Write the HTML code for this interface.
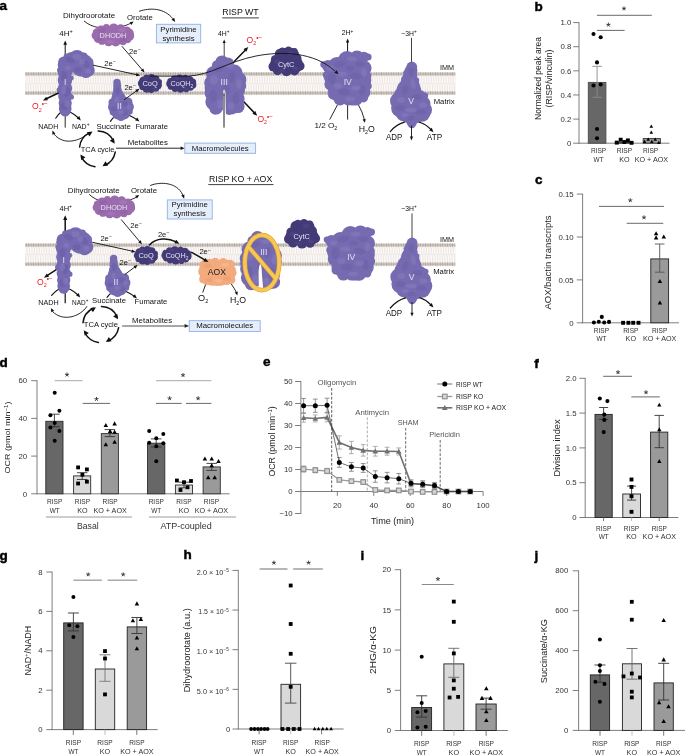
<!DOCTYPE html>
<html><head><meta charset="utf-8"><title>Figure</title>
<style>
html,body{margin:0;padding:0;background:#fff;}
svg{display:block;will-change:transform;font-family:"Liberation Sans",sans-serif;}
</style></head><body>
<svg width="685" height="755" viewBox="0 0 685 755">
<rect width="685" height="755" fill="#fff"/>
<text x="-0.60" y="9.80" font-size="13.5" text-anchor="start" fill="#000" font-weight="bold" stroke="#000" stroke-width="0.45">a</text>
<rect x="25" y="73.95" width="430.4" height="19.10" fill="#eee7e3"/>
<line x1="25.2" y1="79.58" x2="455.4" y2="79.58" stroke="#fcfaf9" stroke-width="7.15" stroke-dasharray="1.3 1.15"/>
<line x1="25.2" y1="87.42" x2="455.4" y2="87.42" stroke="#fcfaf9" stroke-width="7.15" stroke-dasharray="1.3 1.15" stroke-dashoffset="1.2"/>
<pattern id="hd73_0" patternUnits="userSpaceOnUse" x="25" y="72.05" width="2.45" height="3.8"><rect width="2.45" height="3.8" fill="#fff"/><rect y="0.5" width="2.45" height="2.8" fill="#e6dfda"/><ellipse cx="1.225" cy="1.9" rx="0.95" ry="1.9" fill="#b3a8a1"/></pattern>
<rect x="25" y="72.05" width="430.4" height="3.8" fill="url(#hd73_0)"/>
<pattern id="hd73_1" patternUnits="userSpaceOnUse" x="25" y="91.15" width="2.45" height="3.8"><rect width="2.45" height="3.8" fill="#fff"/><rect y="0.5" width="2.45" height="2.8" fill="#e6dfda"/><ellipse cx="1.225" cy="1.9" rx="0.95" ry="1.9" fill="#b3a8a1"/></pattern>
<rect x="25" y="91.15" width="430.4" height="3.8" fill="url(#hd73_1)"/>
<text x="240.50" y="15.30" font-size="8.8" text-anchor="middle" fill="#111" font-weight="normal" textLength="36.3" lengthAdjust="spacingAndGlyphs" >RISP WT</text>
<line x1="222.20" y1="17.90" x2="258.90" y2="17.90" stroke="#111" stroke-width="0.8" />
<text x="63.10" y="18.40" font-size="7.6" text-anchor="start" fill="#111" font-weight="normal" textLength="52" lengthAdjust="spacingAndGlyphs" >Dihydroorotate</text>
<text x="127.00" y="19.90" font-size="7.6" text-anchor="start" fill="#111" font-weight="normal" textLength="25.8" lengthAdjust="spacingAndGlyphs" >Orotate</text>
<text x="59.30" y="35.80" font-size="7.6" text-anchor="start" fill="#111" font-weight="normal" textLength="13.5" lengthAdjust="spacingAndGlyphs" >4H<tspan dy="-2.6" font-size="5.2">+</tspan></text>
<text x="218.00" y="35.80" font-size="7.6" text-anchor="start" fill="#111" font-weight="normal" textLength="11.5" lengthAdjust="spacingAndGlyphs" >4H<tspan dy="-2.6" font-size="5.2">+</tspan></text>
<text x="341.70" y="35.30" font-size="7.6" text-anchor="start" fill="#111" font-weight="normal" textLength="11.6" lengthAdjust="spacingAndGlyphs" >2H<tspan dy="-2.6" font-size="5.2">+</tspan></text>
<text x="401.20" y="35.80" font-size="7.6" text-anchor="start" fill="#111" font-weight="normal" textLength="15.4" lengthAdjust="spacingAndGlyphs" >~3H<tspan dy="-2.6" font-size="5.2">+</tspan></text>
<text x="129.00" y="53.70" font-size="7.6" text-anchor="start" fill="#111" font-weight="normal" >2e<tspan dy="-2.6" font-size="5.2">−</tspan></text>
<text x="104.20" y="65.90" font-size="7.6" text-anchor="start" fill="#111" font-weight="normal" >2e<tspan dy="-2.6" font-size="5.2">−</tspan></text>
<text x="124.40" y="90.00" font-size="7.6" text-anchor="start" fill="#111" font-weight="normal" >2e<tspan dy="-2.6" font-size="5.2">−</tspan></text>
<text x="38.30" y="128.50" font-size="7.6" text-anchor="start" fill="#111" font-weight="normal" textLength="20" lengthAdjust="spacingAndGlyphs" >NADH</text>
<text x="72.00" y="128.50" font-size="7.6" text-anchor="start" fill="#111" font-weight="normal" textLength="17.4" lengthAdjust="spacingAndGlyphs" >NAD<tspan dy="-2.6" font-size="5.2">+</tspan></text>
<text x="96.60" y="128.50" font-size="7.6" text-anchor="start" fill="#111" font-weight="normal" textLength="34.2" lengthAdjust="spacingAndGlyphs" >Succinate</text>
<text x="135.40" y="128.50" font-size="7.6" text-anchor="start" fill="#111" font-weight="normal" textLength="32.5" lengthAdjust="spacingAndGlyphs" >Fumarate</text>
<text x="127.70" y="145.10" font-size="7.6" text-anchor="start" fill="#111" font-weight="normal" textLength="40.2" lengthAdjust="spacingAndGlyphs" >Metabolites</text>
<text x="314.40" y="127.70" font-size="8.0" text-anchor="start" fill="#111" font-weight="normal" textLength="22.9" lengthAdjust="spacingAndGlyphs" >1/2 O<tspan dy="2.0" font-size="5.2">2</tspan></text>
<text x="358.80" y="132.30" font-size="8.4" text-anchor="start" fill="#111" font-weight="normal" textLength="16.1" lengthAdjust="spacingAndGlyphs" >H<tspan dy="2.0" font-size="5.2">2</tspan><tspan dy="-2">O</tspan></text>
<text x="386.00" y="140.20" font-size="8.4" text-anchor="start" fill="#111" font-weight="normal" textLength="16.3" lengthAdjust="spacingAndGlyphs" >ADP</text>
<text x="426.80" y="140.20" font-size="8.4" text-anchor="start" fill="#111" font-weight="normal" textLength="15.3" lengthAdjust="spacingAndGlyphs" >ATP</text>
<text x="440.00" y="69.50" font-size="7.6" text-anchor="start" fill="#111" font-weight="normal" textLength="14" lengthAdjust="spacingAndGlyphs" >IMM</text>
<text x="433.70" y="103.50" font-size="7.6" text-anchor="start" fill="#111" font-weight="normal" textLength="21" lengthAdjust="spacingAndGlyphs" >Matrix</text>
<rect x="156.4" y="24.3" width="44.30" height="18.60" fill="#e7eefb" stroke="#8fb1e3" stroke-width="0.9"/>
<text x="178.50" y="31.50" font-size="7.6" text-anchor="middle" fill="#111" font-weight="normal" textLength="36.3" lengthAdjust="spacingAndGlyphs" >Pyrimidine</text>
<text x="178.50" y="40.60" font-size="7.6" text-anchor="middle" fill="#111" font-weight="normal" textLength="32.2" lengthAdjust="spacingAndGlyphs" >synthesis</text>
<rect x="184.8" y="143.1" width="70.80" height="10.20" fill="#e7eefb" stroke="#8fb1e3" stroke-width="0.9"/>
<text x="220.20" y="150.60" font-size="7.4" text-anchor="middle" fill="#111" font-weight="normal" textLength="57" lengthAdjust="spacingAndGlyphs" >Macromolecules</text>
<line x1="65.20" y1="58.00" x2="65.20" y2="43.48" stroke="#111" stroke-width="1.0" stroke-linecap="round"/>
<path d="M65.20,40.40 L67.05,44.80 L63.35,44.80Z" fill="#111"/>
<line x1="224.20" y1="58.00" x2="224.20" y2="41.92" stroke="#111" stroke-width="0.8" stroke-linecap="round"/>
<path d="M224.20,39.40 L225.71,43.00 L222.69,43.00Z" fill="#111"/>
<line x1="347.60" y1="56.00" x2="347.60" y2="41.40" stroke="#111" stroke-width="1.0" stroke-linecap="round"/>
<path d="M347.60,38.60 L349.28,42.60 L345.92,42.60Z" fill="#111"/>
<line x1="411.50" y1="63.00" x2="411.50" y2="37.80" stroke="#111" stroke-width="0.8" />
<path d="M84.3,21.2 C92,28 104,29 112,28 C122,27 128,25 131.5,22.8" fill="none" stroke="#111" stroke-width="0.9" stroke-linecap="round" />
<path d="M133.60,21.40 L131.40,24.89 L129.57,22.27Z" fill="#111"/>
<path d="M139.5,11.2 C150,7.6 164,7.8 172.6,18.4" fill="none" stroke="#111" stroke-width="0.9" stroke-linecap="round" />
<path d="M175.20,22.00 L171.49,19.75 L174.21,17.78Z" fill="#111"/>
<line x1="60.00" y1="92.20" x2="45.80" y2="99.01" stroke="#111" stroke-width="1.5" stroke-linecap="round"/>
<path d="M42.90,100.40 L46.21,96.67 L47.88,100.15Z" fill="#111"/>
<line x1="233.50" y1="62.30" x2="245.96" y2="49.42" stroke="#111" stroke-width="1.5" stroke-linecap="round"/>
<path d="M248.30,47.00 L246.41,51.85 L243.51,49.05Z" fill="#111"/>
<line x1="243.60" y1="101.60" x2="254.88" y2="113.37" stroke="#111" stroke-width="1.5" stroke-linecap="round"/>
<path d="M257.20,115.80 L252.42,113.73 L255.34,110.94Z" fill="#111"/>
<path d="M55.7,118.2 Q58.5,114 61,112" fill="none" stroke="#111" stroke-width="1.1" stroke-linecap="round" />
<path d="M70,112 Q75,114.5 78.5,118" fill="none" stroke="#111" stroke-width="1.1" stroke-linecap="round" />
<path d="M80.80,120.40 L76.68,118.46 L79.30,116.10Z" fill="#111"/>
<line x1="65.20" y1="115.00" x2="65.20" y2="127.60" stroke="#111" stroke-width="0.9" />
<path d="M110.4,121.4 Q112.5,118 115.5,116" fill="none" stroke="#111" stroke-width="1.1" stroke-linecap="round" />
<path d="M129.5,115.4 Q134,117.5 137,119.6" fill="none" stroke="#111" stroke-width="1.1" stroke-linecap="round" />
<path d="M139.40,121.60 L135.05,120.25 L137.32,117.55Z" fill="#111"/>
<line x1="337.40" y1="105.00" x2="329.70" y2="119.60" stroke="#111" stroke-width="0.9" />
<line x1="347.60" y1="103.00" x2="347.60" y2="119.60" stroke="#111" stroke-width="0.9" />
<path d="M358.3,104.5 Q362.6,112 364.2,119" fill="none" stroke="#111" stroke-width="0.9" stroke-linecap="round" />
<path d="M364.90,122.80 L362.55,119.41 L365.67,118.75Z" fill="#111"/>
<circle cx="65.00" cy="65.00" r="7.30" fill="#766bb1"/>
<circle cx="65.00" cy="72.00" r="7.30" fill="#766bb1"/>
<circle cx="65.00" cy="80.00" r="7.30" fill="#766bb1"/>
<circle cx="65.00" cy="88.00" r="7.20" fill="#766bb1"/>
<circle cx="65.20" cy="96.00" r="7.00" fill="#766bb1"/>
<circle cx="65.20" cy="103.00" r="6.60" fill="#766bb1"/>
<circle cx="65.20" cy="109.00" r="6.30" fill="#766bb1"/>
<circle cx="65.20" cy="111.40" r="5.20" fill="#766bb1"/>
<circle cx="82.00" cy="65.00" r="11.50" fill="#766bb1"/>
<circle cx="77.00" cy="58.00" r="8.00" fill="#766bb1"/>
<circle cx="88.00" cy="70.00" r="6.80" fill="#766bb1"/>
<circle cx="86.00" cy="72.50" r="5.60" fill="#766bb1"/>
<circle cx="72.00" cy="60.00" r="8.00" fill="#766bb1"/>
<circle cx="70.00" cy="66.00" r="7.00" fill="#766bb1"/>
<circle cx="59.60" cy="70.00" r="2.60" fill="#766bb1"/>
<circle cx="59.40" cy="90.00" r="2.80" fill="#766bb1"/>
<circle cx="71.40" cy="97.00" r="2.60" fill="#766bb1"/>
<circle cx="71.60" cy="78.00" r="2.20" fill="#766bb1"/>
<circle cx="90.00" cy="62.00" r="3.40" fill="#766bb1"/>
<circle cx="84.00" cy="55.60" r="3.20" fill="#766bb1"/>
<circle cx="66.60" cy="56.40" r="3.00" fill="#766bb1"/>
<circle cx="63.60" cy="62.00" r="5.40" fill="#766bb1"/>
<ellipse cx="70.00" cy="60.00" rx="5.00" ry="3.00" fill="#675ca3" transform="rotate(20 70.00 60.00)" opacity="0.45"/>
<ellipse cx="86.00" cy="64.00" rx="4.00" ry="3.00" fill="#675ca3" transform="rotate(40 86.00 64.00)" opacity="0.45"/>
<ellipse cx="64.00" cy="76.00" rx="3.00" ry="5.00" fill="#675ca3" opacity="0.45"/>
<ellipse cx="67.00" cy="92.00" rx="3.00" ry="5.00" fill="#675ca3" transform="rotate(10 67.00 92.00)" opacity="0.45"/>
<ellipse cx="64.00" cy="106.00" rx="3.40" ry="4.00" fill="#675ca3" opacity="0.45"/>
<ellipse cx="78.00" cy="70.00" rx="4.00" ry="3.00" fill="#675ca3" opacity="0.45"/>
<ellipse cx="77.00" cy="57.00" rx="4.40" ry="3.00" fill="#877dc0" transform="rotate(10 77.00 57.00)" opacity="0.5"/>
<ellipse cx="88.00" cy="71.00" rx="3.00" ry="2.60" fill="#877dc0" opacity="0.5"/>
<ellipse cx="68.00" cy="68.00" rx="3.00" ry="2.60" fill="#877dc0" opacity="0.5"/>
<ellipse cx="64.00" cy="90.00" rx="2.40" ry="4.00" fill="#877dc0" opacity="0.5"/>
<ellipse cx="67.00" cy="104.00" rx="2.60" ry="3.40" fill="#877dc0" opacity="0.5"/>
<ellipse cx="82.00" cy="62.00" rx="3.00" ry="3.00" fill="#877dc0" opacity="0.5"/>
<text x="65.10" y="85.40" font-size="8.6" text-anchor="middle" fill="#e3dff2" font-weight="normal" >I</text>
<circle cx="117.00" cy="82.40" r="3.70" fill="#766bb1"/>
<circle cx="117.20" cy="86.00" r="4.00" fill="#766bb1"/>
<circle cx="117.40" cy="90.00" r="4.40" fill="#766bb1"/>
<circle cx="117.80" cy="94.00" r="5.40" fill="#766bb1"/>
<circle cx="118.20" cy="96.40" r="6.20" fill="#766bb1"/>
<circle cx="118.60" cy="99.40" r="7.60" fill="#766bb1"/>
<circle cx="120.50" cy="106.00" r="10.50" fill="#766bb1"/>
<circle cx="114.00" cy="107.00" r="6.00" fill="#766bb1"/>
<circle cx="127.50" cy="107.00" r="6.30" fill="#766bb1"/>
<circle cx="118.00" cy="113.00" r="6.50" fill="#766bb1"/>
<circle cx="124.00" cy="113.50" r="6.00" fill="#766bb1"/>
<circle cx="121.00" cy="116.50" r="4.50" fill="#766bb1"/>
<circle cx="128.00" cy="102.00" r="4.50" fill="#766bb1"/>
<circle cx="112.50" cy="102.50" r="4.00" fill="#766bb1"/>
<circle cx="113.00" cy="112.00" r="3.40" fill="#766bb1"/>
<circle cx="129.50" cy="111.50" r="3.20" fill="#766bb1"/>
<ellipse cx="117.60" cy="91.00" rx="2.20" ry="4.00" fill="#675ca3" opacity="0.45"/>
<ellipse cx="125.00" cy="104.00" rx="3.00" ry="3.00" fill="#675ca3" opacity="0.45"/>
<ellipse cx="114.00" cy="109.00" rx="3.00" ry="2.40" fill="#675ca3" opacity="0.45"/>
<ellipse cx="125.00" cy="113.00" rx="3.00" ry="2.20" fill="#675ca3" opacity="0.45"/>
<ellipse cx="117.00" cy="100.00" rx="2.40" ry="3.00" fill="#877dc0" opacity="0.5"/>
<ellipse cx="121.00" cy="112.00" rx="3.40" ry="2.00" fill="#877dc0" opacity="0.5"/>
<ellipse cx="129.00" cy="107.00" rx="2.40" ry="2.40" fill="#877dc0" opacity="0.5"/>
<text x="119.40" y="108.80" font-size="8.6" text-anchor="middle" fill="#e3dff2" font-weight="normal" >II</text>
<ellipse cx="113.00" cy="35.00" rx="19.09" ry="9.29" fill="#9a6cae"/>
<circle cx="129.61" cy="36.05" r="4.60" fill="#9a6cae"/>
<circle cx="127.19" cy="38.80" r="4.55" fill="#9a6cae"/>
<circle cx="122.95" cy="41.91" r="3.33" fill="#9a6cae"/>
<circle cx="115.68" cy="41.50" r="5.01" fill="#9a6cae"/>
<circle cx="108.61" cy="42.36" r="3.99" fill="#9a6cae"/>
<circle cx="101.94" cy="41.20" r="3.67" fill="#9a6cae"/>
<circle cx="98.55" cy="37.98" r="5.12" fill="#9a6cae"/>
<circle cx="95.14" cy="35.48" r="3.51" fill="#9a6cae"/>
<circle cx="96.90" cy="32.40" r="4.20" fill="#9a6cae"/>
<circle cx="101.24" cy="30.29" r="4.89" fill="#9a6cae"/>
<circle cx="106.39" cy="27.26" r="3.28" fill="#9a6cae"/>
<circle cx="113.75" cy="28.14" r="4.73" fill="#9a6cae"/>
<circle cx="120.61" cy="28.57" r="4.41" fill="#9a6cae"/>
<circle cx="126.91" cy="29.79" r="3.39" fill="#9a6cae"/>
<circle cx="128.74" cy="33.27" r="5.07" fill="#9a6cae"/>
<ellipse cx="113.00" cy="35.00" rx="18.00" ry="8.60" fill="#9a6cae"/>
<ellipse cx="102.00" cy="30.40" rx="4.00" ry="2.20" fill="#8b5d9f" transform="rotate(-10 102.00 30.40)" opacity="0.45"/>
<ellipse cx="123.00" cy="40.00" rx="4.00" ry="2.20" fill="#8b5d9f" opacity="0.45"/>
<ellipse cx="100.00" cy="39.00" rx="3.00" ry="2.00" fill="#8b5d9f" opacity="0.45"/>
<ellipse cx="122.00" cy="30.00" rx="4.00" ry="2.00" fill="#a97dbb" opacity="0.5"/>
<ellipse cx="110.00" cy="41.80" rx="4.00" ry="1.80" fill="#a97dbb" opacity="0.5"/>
<text x="113.00" y="37.70" font-size="7.3" text-anchor="middle" fill="#e8dcef" font-weight="normal" >DHODH</text>
<ellipse cx="150.10" cy="83.60" rx="10.22" ry="7.62" fill="#433b78"/>
<circle cx="157.72" cy="85.19" r="4.22" fill="#433b78"/>
<circle cx="155.67" cy="88.23" r="3.55" fill="#433b78"/>
<circle cx="151.27" cy="90.10" r="3.04" fill="#433b78"/>
<circle cx="146.75" cy="88.31" r="4.39" fill="#433b78"/>
<circle cx="142.38" cy="87.03" r="3.10" fill="#433b78"/>
<circle cx="141.37" cy="83.51" r="3.47" fill="#433b78"/>
<circle cx="143.49" cy="80.65" r="4.27" fill="#433b78"/>
<circle cx="146.33" cy="77.41" r="2.84" fill="#433b78"/>
<circle cx="151.39" cy="78.01" r="3.94" fill="#433b78"/>
<circle cx="155.62" cy="79.35" r="3.90" fill="#433b78"/>
<circle cx="159.11" cy="81.79" r="2.85" fill="#433b78"/>
<ellipse cx="150.10" cy="83.60" rx="9.60" ry="7.40" fill="#433b78"/>
<ellipse cx="145.10" cy="78.20" rx="3.00" ry="1.60" fill="#514987" opacity="0.5"/>
<ellipse cx="155.10" cy="89.20" rx="3.00" ry="1.60" fill="#514987" opacity="0.5"/>
<text x="150.10" y="86.20" font-size="7.4" text-anchor="middle" fill="#e4e1f3" font-weight="normal" >CoQ</text>
<ellipse cx="181.40" cy="83.60" rx="13.27" ry="7.27" fill="#433b78"/>
<circle cx="192.44" cy="84.65" r="3.93" fill="#433b78"/>
<circle cx="190.33" cy="87.08" r="3.68" fill="#433b78"/>
<circle cx="186.27" cy="89.47" r="2.82" fill="#433b78"/>
<circle cx="180.53" cy="88.56" r="4.22" fill="#433b78"/>
<circle cx="175.01" cy="88.66" r="3.22" fill="#433b78"/>
<circle cx="170.98" cy="86.63" r="3.15" fill="#433b78"/>
<circle cx="170.45" cy="83.81" r="4.24" fill="#433b78"/>
<circle cx="170.24" cy="80.89" r="2.86" fill="#433b78"/>
<circle cx="174.43" cy="79.14" r="3.62" fill="#433b78"/>
<circle cx="179.59" cy="78.46" r="3.99" fill="#433b78"/>
<circle cx="185.33" cy="77.46" r="2.73" fill="#433b78"/>
<circle cx="189.44" cy="80.02" r="4.03" fill="#433b78"/>
<circle cx="192.58" cy="82.02" r="3.56" fill="#433b78"/>
<ellipse cx="181.40" cy="83.60" rx="12.40" ry="7.00" fill="#433b78"/>
<ellipse cx="176.40" cy="78.20" rx="3.00" ry="1.60" fill="#514987" opacity="0.5"/>
<ellipse cx="186.40" cy="89.20" rx="3.00" ry="1.60" fill="#514987" opacity="0.5"/>
<text x="181.80" y="86.20" font-size="7.2" text-anchor="middle" fill="#e4e1f3" font-weight="normal" >CoQH<tspan dy="1.6" font-size="4.8">2</tspan></text>
<circle cx="222.00" cy="62.00" r="6.60" fill="#766bb1"/>
<circle cx="228.00" cy="63.50" r="6.00" fill="#766bb1"/>
<circle cx="217.50" cy="65.50" r="5.60" fill="#766bb1"/>
<circle cx="224.00" cy="70.00" r="9.00" fill="#766bb1"/>
<circle cx="214.00" cy="74.00" r="8.00" fill="#766bb1"/>
<circle cx="234.00" cy="73.00" r="8.50" fill="#766bb1"/>
<circle cx="238.00" cy="80.00" r="8.40" fill="#766bb1"/>
<circle cx="212.00" cy="83.00" r="7.80" fill="#766bb1"/>
<circle cx="224.00" cy="82.00" r="12.00" fill="#766bb1"/>
<circle cx="236.00" cy="90.00" r="9.00" fill="#766bb1"/>
<circle cx="213.00" cy="93.00" r="8.40" fill="#766bb1"/>
<circle cx="214.00" cy="102.00" r="8.60" fill="#766bb1"/>
<circle cx="236.00" cy="99.00" r="8.60" fill="#766bb1"/>
<circle cx="234.00" cy="106.00" r="7.60" fill="#766bb1"/>
<circle cx="216.00" cy="108.00" r="6.60" fill="#766bb1"/>
<circle cx="221.00" cy="101.00" r="6.00" fill="#766bb1"/>
<circle cx="229.00" cy="103.00" r="7.00" fill="#766bb1"/>
<circle cx="229.00" cy="110.00" r="5.00" fill="#766bb1"/>
<circle cx="210.00" cy="88.00" r="5.40" fill="#766bb1"/>
<circle cx="241.00" cy="86.00" r="5.20" fill="#766bb1"/>
<circle cx="224.00" cy="95.00" r="7.50" fill="#766bb1"/>
<circle cx="225.00" cy="106.00" r="5.00" fill="#766bb1"/>
<circle cx="238.00" cy="106.50" r="6.60" fill="#766bb1"/>
<circle cx="232.00" cy="109.60" r="4.90" fill="#766bb1"/>
<circle cx="215.00" cy="109.40" r="5.00" fill="#766bb1"/>
<ellipse cx="219.00" cy="69.00" rx="5.00" ry="3.00" fill="#675ca3" transform="rotate(-20 219.00 69.00)" opacity="0.42"/>
<ellipse cx="232.00" cy="77.00" rx="3.00" ry="6.00" fill="#675ca3" transform="rotate(10 232.00 77.00)" opacity="0.42"/>
<ellipse cx="213.00" cy="96.00" rx="4.00" ry="6.00" fill="#675ca3" opacity="0.42"/>
<ellipse cx="236.00" cy="98.00" rx="3.40" ry="6.00" fill="#675ca3" opacity="0.42"/>
<ellipse cx="226.00" cy="90.00" rx="4.00" ry="5.00" fill="#675ca3" opacity="0.42"/>
<ellipse cx="214.00" cy="80.00" rx="4.00" ry="5.00" fill="#877dc0" opacity="0.5"/>
<ellipse cx="239.00" cy="84.00" rx="3.00" ry="5.00" fill="#877dc0" opacity="0.5"/>
<ellipse cx="220.00" cy="104.00" rx="3.00" ry="5.00" fill="#877dc0" opacity="0.5"/>
<ellipse cx="230.00" cy="66.00" rx="4.00" ry="2.40" fill="#877dc0" opacity="0.5"/>
<ellipse cx="231.00" cy="106.00" rx="3.00" ry="4.00" fill="#877dc0" opacity="0.5"/>
<text x="224.20" y="84.60" font-size="8.6" text-anchor="middle" fill="#e3dff2" font-weight="normal" >III</text>
<path d="M222.9,116.5 L223,93 Q223.1,90 224.1,89.4 Q225.3,90 225.4,93 L225.9,116.5Z" fill="#fff"/>
<path d="M223,96 L223,93 Q223.1,90 224.1,89.4 Q225.3,90 225.4,93 L225.4,96Z" fill="#c9c4bf"/>
<line x1="224.00" y1="93.60" x2="224.00" y2="127.60" stroke="#1c1c1c" stroke-width="1.0" />
<circle cx="278.50" cy="64.60" r="8.60" fill="#433b78"/>
<circle cx="294.50" cy="64.60" r="8.60" fill="#433b78"/>
<circle cx="286.50" cy="63.60" r="9.40" fill="#433b78"/>
<circle cx="285.50" cy="55.60" r="7.60" fill="#433b78"/>
<circle cx="292.50" cy="54.60" r="6.60" fill="#433b78"/>
<circle cx="280.50" cy="54.00" r="5.60" fill="#433b78"/>
<circle cx="273.50" cy="66.60" r="5.00" fill="#433b78"/>
<circle cx="300.00" cy="66.00" r="4.60" fill="#433b78"/>
<circle cx="277.50" cy="70.60" r="4.60" fill="#433b78"/>
<circle cx="294.50" cy="70.60" r="4.80" fill="#433b78"/>
<circle cx="286.50" cy="71.20" r="5.00" fill="#433b78"/>
<circle cx="296.50" cy="58.60" r="5.00" fill="#433b78"/>
<circle cx="275.50" cy="59.60" r="4.60" fill="#433b78"/>
<circle cx="288.50" cy="50.20" r="3.60" fill="#433b78"/>
<circle cx="282.50" cy="50.60" r="3.20" fill="#433b78"/>
<circle cx="294.50" cy="51.00" r="3.00" fill="#433b78"/>
<ellipse cx="277.50" cy="61.60" rx="3.00" ry="2.00" fill="#514987" opacity="0.6"/>
<ellipse cx="295.50" cy="68.60" rx="3.00" ry="2.00" fill="#514987" opacity="0.6"/>
<ellipse cx="290.50" cy="53.60" rx="3.00" ry="2.00" fill="#514987" opacity="0.6"/>
<ellipse cx="282.50" cy="70.60" rx="3.00" ry="1.60" fill="#514987" opacity="0.6"/>
<text x="286.10" y="66.80" font-size="7.4" text-anchor="middle" fill="#e4e1f3" font-weight="normal" >CytC</text>
<circle cx="347.00" cy="60.00" r="9.00" fill="#766bb1"/>
<circle cx="357.00" cy="58.00" r="7.60" fill="#766bb1"/>
<circle cx="364.00" cy="57.00" r="5.20" fill="#766bb1"/>
<circle cx="368.00" cy="57.00" r="3.60" fill="#766bb1"/>
<circle cx="337.00" cy="66.00" r="9.00" fill="#766bb1"/>
<circle cx="328.00" cy="66.00" r="6.00" fill="#766bb1"/>
<circle cx="323.50" cy="64.50" r="3.20" fill="#766bb1"/>
<circle cx="352.00" cy="70.00" r="12.00" fill="#766bb1"/>
<circle cx="364.00" cy="68.00" r="7.60" fill="#766bb1"/>
<circle cx="334.00" cy="76.00" r="10.40" fill="#766bb1"/>
<circle cx="350.00" cy="82.00" r="13.00" fill="#766bb1"/>
<circle cx="362.00" cy="80.00" r="9.40" fill="#766bb1"/>
<circle cx="331.00" cy="84.00" r="6.60" fill="#766bb1"/>
<circle cx="337.60" cy="91.40" r="9.60" fill="#766bb1"/>
<circle cx="352.00" cy="94.00" r="11.40" fill="#766bb1"/>
<circle cx="362.00" cy="92.00" r="8.40" fill="#766bb1"/>
<circle cx="366.00" cy="76.00" r="5.40" fill="#766bb1"/>
<circle cx="340.00" cy="99.00" r="6.50" fill="#766bb1"/>
<circle cx="356.00" cy="99.00" r="6.60" fill="#766bb1"/>
<circle cx="348.00" cy="99.80" r="5.70" fill="#766bb1"/>
<circle cx="327.00" cy="75.00" r="4.20" fill="#766bb1"/>
<circle cx="367.40" cy="86.00" r="4.40" fill="#766bb1"/>
<circle cx="332.50" cy="95.00" r="4.40" fill="#766bb1"/>
<circle cx="363.60" cy="98.00" r="4.40" fill="#766bb1"/>
<ellipse cx="340.00" cy="64.00" rx="6.00" ry="3.00" fill="#675ca3" transform="rotate(-10 340.00 64.00)" opacity="0.42"/>
<ellipse cx="360.00" cy="64.00" rx="5.00" ry="2.60" fill="#675ca3" opacity="0.42"/>
<ellipse cx="332.00" cy="78.00" rx="4.00" ry="6.00" fill="#675ca3" opacity="0.42"/>
<ellipse cx="356.00" cy="76.00" rx="6.00" ry="3.00" fill="#675ca3" transform="rotate(10 356.00 76.00)" opacity="0.42"/>
<ellipse cx="344.00" cy="92.00" rx="6.00" ry="3.40" fill="#675ca3" opacity="0.42"/>
<ellipse cx="362.00" cy="90.00" rx="3.40" ry="5.00" fill="#675ca3" opacity="0.42"/>
<ellipse cx="350.00" cy="68.00" rx="4.00" ry="2.40" fill="#675ca3" opacity="0.42"/>
<ellipse cx="352.00" cy="59.00" rx="5.00" ry="2.40" fill="#877dc0" opacity="0.5"/>
<ellipse cx="330.00" cy="68.00" rx="4.00" ry="2.60" fill="#877dc0" opacity="0.5"/>
<ellipse cx="364.00" cy="72.00" rx="3.00" ry="4.00" fill="#877dc0" opacity="0.5"/>
<ellipse cx="338.00" cy="86.00" rx="4.00" ry="3.00" fill="#877dc0" opacity="0.5"/>
<ellipse cx="356.00" cy="88.00" rx="5.00" ry="2.60" fill="#877dc0" opacity="0.5"/>
<ellipse cx="350.00" cy="99.00" rx="5.00" ry="2.40" fill="#877dc0" opacity="0.5"/>
<ellipse cx="342.00" cy="74.00" rx="5.00" ry="2.60" fill="#877dc0" opacity="0.5"/>
<text x="347.80" y="85.20" font-size="8.6" text-anchor="middle" fill="#e3dff2" font-weight="normal" >IV</text>
<circle cx="411.80" cy="67.00" r="5.40" fill="#766bb1"/>
<circle cx="411.00" cy="71.00" r="6.40" fill="#766bb1"/>
<circle cx="410.20" cy="76.00" r="7.20" fill="#766bb1"/>
<circle cx="409.40" cy="81.00" r="8.60" fill="#766bb1"/>
<circle cx="409.80" cy="86.00" r="10.00" fill="#766bb1"/>
<circle cx="408.80" cy="91.00" r="12.40" fill="#766bb1"/>
<circle cx="401.50" cy="95.00" r="7.60" fill="#766bb1"/>
<circle cx="410.00" cy="103.00" r="14.00" fill="#766bb1"/>
<circle cx="399.00" cy="101.00" r="9.00" fill="#766bb1"/>
<circle cx="400.50" cy="108.00" r="9.40" fill="#766bb1"/>
<circle cx="419.00" cy="98.00" r="8.00" fill="#766bb1"/>
<circle cx="421.50" cy="104.00" r="9.00" fill="#766bb1"/>
<circle cx="423.00" cy="110.00" r="9.00" fill="#766bb1"/>
<circle cx="404.00" cy="113.00" r="8.40" fill="#766bb1"/>
<circle cx="421.60" cy="113.00" r="8.80" fill="#766bb1"/>
<circle cx="412.50" cy="115.00" r="9.00" fill="#766bb1"/>
<circle cx="408.00" cy="116.50" r="6.40" fill="#766bb1"/>
<circle cx="417.00" cy="116.50" r="6.40" fill="#766bb1"/>
<circle cx="411.80" cy="121.50" r="5.40" fill="#766bb1"/>
<circle cx="411.80" cy="124.00" r="4.20" fill="#766bb1"/>
<circle cx="405.60" cy="72.60" r="2.40" fill="#766bb1"/>
<circle cx="416.60" cy="80.00" r="2.60" fill="#766bb1"/>
<circle cx="397.40" cy="92.60" r="2.60" fill="#766bb1"/>
<circle cx="425.40" cy="95.60" r="2.80" fill="#766bb1"/>
<ellipse cx="411.00" cy="72.00" rx="2.60" ry="4.00" fill="#675ca3" opacity="0.42"/>
<ellipse cx="405.00" cy="90.00" rx="3.00" ry="5.00" fill="#675ca3" transform="rotate(20 405.00 90.00)" opacity="0.42"/>
<ellipse cx="417.00" cy="97.00" rx="5.00" ry="3.00" fill="#675ca3" opacity="0.42"/>
<ellipse cx="400.00" cy="108.00" rx="5.00" ry="3.00" fill="#675ca3" opacity="0.42"/>
<ellipse cx="421.00" cy="112.00" rx="5.00" ry="2.60" fill="#675ca3" opacity="0.42"/>
<ellipse cx="411.00" cy="118.00" rx="4.00" ry="2.20" fill="#675ca3" opacity="0.42"/>
<ellipse cx="413.00" cy="84.00" rx="2.60" ry="5.00" fill="#877dc0" transform="rotate(-10 413.00 84.00)" opacity="0.5"/>
<ellipse cx="401.00" cy="100.00" rx="4.00" ry="3.00" fill="#877dc0" opacity="0.5"/>
<ellipse cx="423.00" cy="105.00" rx="4.00" ry="2.60" fill="#877dc0" opacity="0.5"/>
<ellipse cx="411.00" cy="110.00" rx="6.00" ry="2.40" fill="#877dc0" opacity="0.5"/>
<ellipse cx="405.00" cy="115.00" rx="4.00" ry="2.00" fill="#877dc0" opacity="0.5"/>
<text x="411.20" y="103.80" font-size="8.6" text-anchor="middle" fill="#e3dff2" font-weight="normal" >V</text>
<line x1="122.10" y1="46.50" x2="142.77" y2="70.38" stroke="#111" stroke-width="0.9" stroke-linecap="round"/>
<path d="M144.60,72.50 L140.71,70.57 L143.25,68.38Z" fill="#111"/>
<line x1="93.30" y1="65.20" x2="137.47" y2="74.90" stroke="#111" stroke-width="0.9" stroke-linecap="round"/>
<path d="M140.20,75.50 L135.93,76.28 L136.65,73.00Z" fill="#111"/>
<line x1="124.40" y1="99.60" x2="137.13" y2="90.44" stroke="#111" stroke-width="0.9" stroke-linecap="round"/>
<path d="M139.40,88.80 L137.14,92.50 L135.17,89.77Z" fill="#111"/>
<path d="M150.5,76.1 L188,76.1 C212,75 226,62 256,56 C282,51 314,52 334.4,70.6" fill="none" stroke="#111" stroke-width="0.9" stroke-linecap="round" />
<path d="M338.60,74.30 L334.30,72.80 L336.66,70.18Z" fill="#111"/>
<text x="32.00" y="109.40" font-size="8.6" text-anchor="start" fill="#ee1c25" font-weight="normal" >O<tspan dy="2.2" font-size="5.4">2</tspan><tspan dy="-5.4" font-size="6.4">•−</tspan></text>
<text x="246.60" y="42.90" font-size="8.6" text-anchor="start" fill="#ee1c25" font-weight="normal" >O<tspan dy="2.2" font-size="5.4">2</tspan><tspan dy="-5.4" font-size="6.4">•−</tspan></text>
<text x="257.40" y="122.10" font-size="8.6" text-anchor="start" fill="#ee1c25" font-weight="normal" >O<tspan dy="2.2" font-size="5.4">2</tspan><tspan dy="-5.4" font-size="6.4">•−</tspan></text>
<path d="M98.13,130.91 A18.0,18.0 0 0 1 113.68,141.01" fill="none" stroke="#111" stroke-width="1.5" stroke-linecap="round" />
<path d="M114.71,143.64 L109.74,140.72 L113.87,137.93Z" fill="#111"/>
<path d="M115.23,152.03 A18.0,18.0 0 0 1 105.11,165.21" fill="none" stroke="#111" stroke-width="1.5" stroke-linecap="round" />
<path d="M102.46,166.20 L105.46,161.28 L108.18,165.46Z" fill="#111"/>
<path d="M94.99,166.72 A18.0,18.0 0 0 1 81.46,157.07" fill="none" stroke="#111" stroke-width="1.5" stroke-linecap="round" />
<path d="M80.38,154.46 L85.41,157.29 L81.32,160.15Z" fill="#111"/>
<path d="M79.60,147.02 A18.0,18.0 0 0 1 89.89,132.59" fill="none" stroke="#111" stroke-width="1.5" stroke-linecap="round" />
<path d="M92.54,131.60 L89.54,136.52 L86.82,132.34Z" fill="#111"/>
<text x="97.60" y="152.20" font-size="7.6" text-anchor="middle" fill="#111" font-weight="normal" textLength="33.6" lengthAdjust="spacingAndGlyphs" >TCA cycle</text>
<path d="M88.5,133.2 C80,141 64,146 54.2,134.4" fill="none" stroke="#111" stroke-width="0.9" stroke-linecap="round" />
<path d="M52.40,130.40 L55.46,133.48 L52.34,134.74Z" fill="#111"/>
<line x1="116.00" y1="148.20" x2="181.00" y2="148.20" stroke="#111" stroke-width="0.9" />
<path d="M184.60,148.20 L180.60,149.88 L180.60,146.52Z" fill="#111"/>
<line x1="411.50" y1="126.00" x2="411.50" y2="137.74" stroke="#111" stroke-width="0.9" stroke-linecap="round"/>
<path d="M411.50,140.40 L409.90,136.60 L413.10,136.60Z" fill="#111"/>
<path d="M390.3,131.6 Q396,124.6 404.4,122.2" fill="none" stroke="#111" stroke-width="1.2" stroke-linecap="round" />
<path d="M419.4,122.2 Q426.5,124.4 430.6,129.2" fill="none" stroke="#111" stroke-width="1.2" stroke-linecap="round" />
<path d="M433.40,132.20 L429.08,130.17 L431.83,127.69Z" fill="#111"/>
<rect x="25" y="245.10" width="430.4" height="19.10" fill="#eee7e3"/>
<line x1="25.2" y1="250.72" x2="455.4" y2="250.72" stroke="#fcfaf9" stroke-width="7.15" stroke-dasharray="1.3 1.15"/>
<line x1="25.2" y1="258.58" x2="455.4" y2="258.58" stroke="#fcfaf9" stroke-width="7.15" stroke-dasharray="1.3 1.15" stroke-dashoffset="1.2"/>
<pattern id="hd245_0" patternUnits="userSpaceOnUse" x="25" y="243.20" width="2.45" height="3.8"><rect width="2.45" height="3.8" fill="#fff"/><rect y="0.5" width="2.45" height="2.8" fill="#e6dfda"/><ellipse cx="1.225" cy="1.9" rx="0.95" ry="1.9" fill="#b3a8a1"/></pattern>
<rect x="25" y="243.20" width="430.4" height="3.8" fill="url(#hd245_0)"/>
<pattern id="hd245_1" patternUnits="userSpaceOnUse" x="25" y="262.30" width="2.45" height="3.8"><rect width="2.45" height="3.8" fill="#fff"/><rect y="0.5" width="2.45" height="2.8" fill="#e6dfda"/><ellipse cx="1.225" cy="1.9" rx="0.95" ry="1.9" fill="#b3a8a1"/></pattern>
<rect x="25" y="262.30" width="430.4" height="3.8" fill="url(#hd245_1)"/>
<text x="240.60" y="181.50" font-size="8.8" text-anchor="middle" fill="#111" font-weight="normal" textLength="63.4" lengthAdjust="spacingAndGlyphs" >RISP KO + AOX</text>
<line x1="208.30" y1="184.60" x2="273.50" y2="184.60" stroke="#111" stroke-width="0.8" />
<text x="67.70" y="192.50" font-size="7.6" text-anchor="start" fill="#111" font-weight="normal" textLength="52" lengthAdjust="spacingAndGlyphs" >Dihydroorotate</text>
<text x="131.00" y="192.50" font-size="7.6" text-anchor="start" fill="#111" font-weight="normal" textLength="26" lengthAdjust="spacingAndGlyphs" >Orotate</text>
<text x="59.50" y="210.90" font-size="7.6" text-anchor="start" fill="#111" font-weight="normal" textLength="12.6" lengthAdjust="spacingAndGlyphs" >4H<tspan dy="-2.6" font-size="5.2">+</tspan></text>
<text x="401.20" y="210.90" font-size="7.6" text-anchor="start" fill="#111" font-weight="normal" textLength="15.4" lengthAdjust="spacingAndGlyphs" >~3H<tspan dy="-2.6" font-size="5.2">+</tspan></text>
<text x="130.30" y="227.50" font-size="7.6" text-anchor="start" fill="#111" font-weight="normal" >2e<tspan dy="-2.6" font-size="5.2">−</tspan></text>
<text x="100.40" y="241.00" font-size="7.6" text-anchor="start" fill="#111" font-weight="normal" >2e<tspan dy="-2.6" font-size="5.2">−</tspan></text>
<text x="157.90" y="236.90" font-size="7.6" text-anchor="start" fill="#111" font-weight="normal" >2e<tspan dy="-2.6" font-size="5.2">−</tspan></text>
<text x="119.60" y="264.50" font-size="7.6" text-anchor="start" fill="#111" font-weight="normal" >2e<tspan dy="-2.6" font-size="5.2">−</tspan></text>
<text x="199.40" y="254.30" font-size="7.6" text-anchor="start" fill="#111" font-weight="normal" >2e<tspan dy="-2.6" font-size="5.2">−</tspan></text>
<text x="38.30" y="304.60" font-size="7.6" text-anchor="start" fill="#111" font-weight="normal" textLength="20.5" lengthAdjust="spacingAndGlyphs" >NADH</text>
<text x="72.00" y="304.60" font-size="7.6" text-anchor="start" fill="#111" font-weight="normal" textLength="16.2" lengthAdjust="spacingAndGlyphs" >NAD<tspan dy="-2.6" font-size="5.2">+</tspan></text>
<text x="92.00" y="302.90" font-size="7.6" text-anchor="start" fill="#111" font-weight="normal" textLength="34" lengthAdjust="spacingAndGlyphs" >Succinate</text>
<text x="134.60" y="303.90" font-size="7.6" text-anchor="start" fill="#111" font-weight="normal" textLength="32.7" lengthAdjust="spacingAndGlyphs" >Fumarate</text>
<text x="132.10" y="322.50" font-size="7.6" text-anchor="start" fill="#111" font-weight="normal" textLength="40" lengthAdjust="spacingAndGlyphs" >Metabolites</text>
<text x="198.10" y="300.80" font-size="8.6" text-anchor="start" fill="#111" font-weight="normal" textLength="10.2" lengthAdjust="spacingAndGlyphs" >O<tspan dy="2.0" font-size="5.2">2</tspan></text>
<text x="230.00" y="303.40" font-size="8.6" text-anchor="start" fill="#111" font-weight="normal" textLength="16.1" lengthAdjust="spacingAndGlyphs" >H<tspan dy="2.0" font-size="5.2">2</tspan><tspan dy="-2">O</tspan></text>
<text x="385.70" y="316.30" font-size="8.4" text-anchor="start" fill="#111" font-weight="normal" textLength="16.5" lengthAdjust="spacingAndGlyphs" >ADP</text>
<text x="426.80" y="316.30" font-size="8.4" text-anchor="start" fill="#111" font-weight="normal" textLength="15.2" lengthAdjust="spacingAndGlyphs" >ATP</text>
<text x="440.00" y="242.30" font-size="7.6" text-anchor="start" fill="#111" font-weight="normal" textLength="14" lengthAdjust="spacingAndGlyphs" >IMM</text>
<text x="433.20" y="274.20" font-size="7.6" text-anchor="start" fill="#111" font-weight="normal" textLength="21" lengthAdjust="spacingAndGlyphs" >Matrix</text>
<rect x="167.3" y="199.9" width="44.90" height="19.10" fill="#e7eefb" stroke="#8fb1e3" stroke-width="0.9"/>
<text x="189.70" y="207.10" font-size="7.6" text-anchor="middle" fill="#111" font-weight="normal" textLength="36.3" lengthAdjust="spacingAndGlyphs" >Pyrimidine</text>
<text x="189.70" y="216.20" font-size="7.6" text-anchor="middle" fill="#111" font-weight="normal" textLength="32.2" lengthAdjust="spacingAndGlyphs" >synthesis</text>
<rect x="189.2" y="320.7" width="71.00" height="10.80" fill="#e7eefb" stroke="#8fb1e3" stroke-width="0.9"/>
<text x="224.70" y="328.30" font-size="7.4" text-anchor="middle" fill="#111" font-weight="normal" textLength="57" lengthAdjust="spacingAndGlyphs" >Macromolecules</text>
<line x1="65.20" y1="235.00" x2="65.20" y2="218.56" stroke="#111" stroke-width="1.5" stroke-linecap="round"/>
<path d="M65.20,215.20 L67.22,220.00 L63.18,220.00Z" fill="#111"/>
<line x1="412.00" y1="238.00" x2="412.00" y2="213.40" stroke="#111" stroke-width="0.8" />
<path d="M89.4,194.6 C96,201 106,203 114,202.5 C124,202 132,200 136.6,197" fill="none" stroke="#111" stroke-width="0.9" stroke-linecap="round" />
<path d="M139.20,195.00 L137.00,198.49 L135.17,195.87Z" fill="#111"/>
<path d="M150.5,185.4 C160,181.5 177,182 182.6,194.6" fill="none" stroke="#111" stroke-width="0.9" stroke-linecap="round" />
<path d="M184.20,198.80 L181.25,195.62 L184.41,194.47Z" fill="#111"/>
<line x1="58.60" y1="268.20" x2="46.71" y2="275.96" stroke="#111" stroke-width="1.5" stroke-linecap="round"/>
<path d="M43.90,277.80 L46.82,273.49 L49.02,276.86Z" fill="#111"/>
<path d="M51.6,295.4 Q55.5,291 59,289" fill="none" stroke="#111" stroke-width="1.1" stroke-linecap="round" />
<path d="M69.5,289 Q74.5,291.5 78,295" fill="none" stroke="#111" stroke-width="1.1" stroke-linecap="round" />
<path d="M80.20,297.40 L76.08,295.46 L78.70,293.10Z" fill="#111"/>
<line x1="65.20" y1="292.00" x2="65.20" y2="303.20" stroke="#111" stroke-width="1.2" />
<path d="M107,297.4 Q109.5,294 112.5,292" fill="none" stroke="#111" stroke-width="1.1" stroke-linecap="round" />
<path d="M126,291.5 Q130.5,293.5 134.5,296.4" fill="none" stroke="#111" stroke-width="1.1" stroke-linecap="round" />
<path d="M137.00,298.40 L132.65,297.05 L134.92,294.35Z" fill="#111"/>
<line x1="205.80" y1="284.00" x2="202.70" y2="292.60" stroke="#111" stroke-width="0.9" />
<path d="M231.3,284 Q234.5,288.5 236.2,292" fill="none" stroke="#111" stroke-width="0.9" stroke-linecap="round" />
<path d="M237.40,295.60 L234.71,292.48 L237.74,291.49Z" fill="#111"/>
<circle cx="63.50" cy="242.20" r="7.30" fill="#766bb1"/>
<circle cx="63.50" cy="249.20" r="7.30" fill="#766bb1"/>
<circle cx="63.50" cy="257.20" r="7.30" fill="#766bb1"/>
<circle cx="63.50" cy="265.20" r="7.20" fill="#766bb1"/>
<circle cx="63.70" cy="273.20" r="7.00" fill="#766bb1"/>
<circle cx="63.70" cy="280.20" r="6.60" fill="#766bb1"/>
<circle cx="63.70" cy="286.20" r="6.30" fill="#766bb1"/>
<circle cx="63.70" cy="288.60" r="5.20" fill="#766bb1"/>
<circle cx="80.50" cy="242.20" r="11.50" fill="#766bb1"/>
<circle cx="75.50" cy="235.20" r="8.00" fill="#766bb1"/>
<circle cx="86.50" cy="247.20" r="6.80" fill="#766bb1"/>
<circle cx="84.50" cy="249.70" r="5.60" fill="#766bb1"/>
<circle cx="70.50" cy="237.20" r="8.00" fill="#766bb1"/>
<circle cx="68.50" cy="243.20" r="7.00" fill="#766bb1"/>
<circle cx="58.10" cy="247.20" r="2.60" fill="#766bb1"/>
<circle cx="57.90" cy="267.20" r="2.80" fill="#766bb1"/>
<circle cx="69.90" cy="274.20" r="2.60" fill="#766bb1"/>
<circle cx="70.10" cy="255.20" r="2.20" fill="#766bb1"/>
<circle cx="88.50" cy="239.20" r="3.40" fill="#766bb1"/>
<circle cx="82.50" cy="232.80" r="3.20" fill="#766bb1"/>
<circle cx="65.10" cy="233.60" r="3.00" fill="#766bb1"/>
<circle cx="62.10" cy="239.20" r="5.40" fill="#766bb1"/>
<ellipse cx="68.50" cy="237.20" rx="5.00" ry="3.00" fill="#675ca3" transform="rotate(20 68.50 237.20)" opacity="0.45"/>
<ellipse cx="84.50" cy="241.20" rx="4.00" ry="3.00" fill="#675ca3" transform="rotate(40 84.50 241.20)" opacity="0.45"/>
<ellipse cx="62.50" cy="253.20" rx="3.00" ry="5.00" fill="#675ca3" opacity="0.45"/>
<ellipse cx="65.50" cy="269.20" rx="3.00" ry="5.00" fill="#675ca3" transform="rotate(10 65.50 269.20)" opacity="0.45"/>
<ellipse cx="62.50" cy="283.20" rx="3.40" ry="4.00" fill="#675ca3" opacity="0.45"/>
<ellipse cx="76.50" cy="247.20" rx="4.00" ry="3.00" fill="#675ca3" opacity="0.45"/>
<ellipse cx="75.50" cy="234.20" rx="4.40" ry="3.00" fill="#877dc0" transform="rotate(10 75.50 234.20)" opacity="0.5"/>
<ellipse cx="86.50" cy="248.20" rx="3.00" ry="2.60" fill="#877dc0" opacity="0.5"/>
<ellipse cx="66.50" cy="245.20" rx="3.00" ry="2.60" fill="#877dc0" opacity="0.5"/>
<ellipse cx="62.50" cy="267.20" rx="2.40" ry="4.00" fill="#877dc0" opacity="0.5"/>
<ellipse cx="65.50" cy="281.20" rx="2.60" ry="3.40" fill="#877dc0" opacity="0.5"/>
<ellipse cx="80.50" cy="239.20" rx="3.00" ry="3.00" fill="#877dc0" opacity="0.5"/>
<text x="63.60" y="262.60" font-size="8.6" text-anchor="middle" fill="#e3dff2" font-weight="normal" >I</text>
<circle cx="113.60" cy="258.40" r="3.70" fill="#766bb1"/>
<circle cx="113.80" cy="262.00" r="4.00" fill="#766bb1"/>
<circle cx="114.00" cy="266.00" r="4.40" fill="#766bb1"/>
<circle cx="114.40" cy="270.00" r="5.40" fill="#766bb1"/>
<circle cx="114.80" cy="272.40" r="6.20" fill="#766bb1"/>
<circle cx="115.20" cy="275.40" r="7.60" fill="#766bb1"/>
<circle cx="117.10" cy="282.00" r="10.50" fill="#766bb1"/>
<circle cx="110.60" cy="283.00" r="6.00" fill="#766bb1"/>
<circle cx="124.10" cy="283.00" r="6.30" fill="#766bb1"/>
<circle cx="114.60" cy="289.00" r="6.50" fill="#766bb1"/>
<circle cx="120.60" cy="289.50" r="6.00" fill="#766bb1"/>
<circle cx="117.60" cy="292.50" r="4.50" fill="#766bb1"/>
<circle cx="124.60" cy="278.00" r="4.50" fill="#766bb1"/>
<circle cx="109.10" cy="278.50" r="4.00" fill="#766bb1"/>
<circle cx="109.60" cy="288.00" r="3.40" fill="#766bb1"/>
<circle cx="126.10" cy="287.50" r="3.20" fill="#766bb1"/>
<ellipse cx="114.20" cy="267.00" rx="2.20" ry="4.00" fill="#675ca3" opacity="0.45"/>
<ellipse cx="121.60" cy="280.00" rx="3.00" ry="3.00" fill="#675ca3" opacity="0.45"/>
<ellipse cx="110.60" cy="285.00" rx="3.00" ry="2.40" fill="#675ca3" opacity="0.45"/>
<ellipse cx="121.60" cy="289.00" rx="3.00" ry="2.20" fill="#675ca3" opacity="0.45"/>
<ellipse cx="113.60" cy="276.00" rx="2.40" ry="3.00" fill="#877dc0" opacity="0.5"/>
<ellipse cx="117.60" cy="288.00" rx="3.40" ry="2.00" fill="#877dc0" opacity="0.5"/>
<ellipse cx="125.60" cy="283.00" rx="2.40" ry="2.40" fill="#877dc0" opacity="0.5"/>
<text x="116.00" y="284.80" font-size="8.6" text-anchor="middle" fill="#e3dff2" font-weight="normal" >II</text>
<ellipse cx="114.00" cy="207.00" rx="19.09" ry="9.29" fill="#9a6cae"/>
<circle cx="130.61" cy="208.05" r="4.60" fill="#9a6cae"/>
<circle cx="128.19" cy="210.80" r="4.55" fill="#9a6cae"/>
<circle cx="123.95" cy="213.91" r="3.33" fill="#9a6cae"/>
<circle cx="116.68" cy="213.50" r="5.01" fill="#9a6cae"/>
<circle cx="109.61" cy="214.36" r="3.99" fill="#9a6cae"/>
<circle cx="102.94" cy="213.20" r="3.67" fill="#9a6cae"/>
<circle cx="99.55" cy="209.98" r="5.12" fill="#9a6cae"/>
<circle cx="96.14" cy="207.48" r="3.51" fill="#9a6cae"/>
<circle cx="97.90" cy="204.40" r="4.20" fill="#9a6cae"/>
<circle cx="102.24" cy="202.29" r="4.89" fill="#9a6cae"/>
<circle cx="107.39" cy="199.26" r="3.28" fill="#9a6cae"/>
<circle cx="114.75" cy="200.14" r="4.73" fill="#9a6cae"/>
<circle cx="121.61" cy="200.57" r="4.41" fill="#9a6cae"/>
<circle cx="127.91" cy="201.79" r="3.39" fill="#9a6cae"/>
<circle cx="129.74" cy="205.27" r="5.07" fill="#9a6cae"/>
<ellipse cx="114.00" cy="207.00" rx="18.00" ry="8.60" fill="#9a6cae"/>
<ellipse cx="103.00" cy="202.40" rx="4.00" ry="2.20" fill="#8b5d9f" transform="rotate(-10 103.00 202.40)" opacity="0.45"/>
<ellipse cx="124.00" cy="212.00" rx="4.00" ry="2.20" fill="#8b5d9f" opacity="0.45"/>
<ellipse cx="101.00" cy="211.00" rx="3.00" ry="2.00" fill="#8b5d9f" opacity="0.45"/>
<ellipse cx="123.00" cy="202.00" rx="4.00" ry="2.00" fill="#a97dbb" opacity="0.5"/>
<ellipse cx="111.00" cy="213.80" rx="4.00" ry="1.80" fill="#a97dbb" opacity="0.5"/>
<text x="114.00" y="209.70" font-size="7.3" text-anchor="middle" fill="#e8dcef" font-weight="normal" >DHODH</text>
<ellipse cx="146.10" cy="255.50" rx="10.22" ry="7.62" fill="#433b78"/>
<circle cx="153.72" cy="257.09" r="4.22" fill="#433b78"/>
<circle cx="151.67" cy="260.13" r="3.55" fill="#433b78"/>
<circle cx="147.27" cy="262.00" r="3.04" fill="#433b78"/>
<circle cx="142.75" cy="260.21" r="4.39" fill="#433b78"/>
<circle cx="138.38" cy="258.93" r="3.10" fill="#433b78"/>
<circle cx="137.37" cy="255.41" r="3.47" fill="#433b78"/>
<circle cx="139.49" cy="252.55" r="4.27" fill="#433b78"/>
<circle cx="142.33" cy="249.31" r="2.84" fill="#433b78"/>
<circle cx="147.39" cy="249.91" r="3.94" fill="#433b78"/>
<circle cx="151.62" cy="251.25" r="3.90" fill="#433b78"/>
<circle cx="155.11" cy="253.69" r="2.85" fill="#433b78"/>
<ellipse cx="146.10" cy="255.50" rx="9.60" ry="7.40" fill="#433b78"/>
<ellipse cx="141.10" cy="250.10" rx="3.00" ry="1.60" fill="#514987" opacity="0.5"/>
<ellipse cx="151.10" cy="261.10" rx="3.00" ry="1.60" fill="#514987" opacity="0.5"/>
<text x="146.10" y="258.10" font-size="7.4" text-anchor="middle" fill="#e4e1f3" font-weight="normal" >CoQ</text>
<ellipse cx="176.60" cy="255.30" rx="13.27" ry="7.27" fill="#433b78"/>
<circle cx="187.64" cy="256.35" r="3.93" fill="#433b78"/>
<circle cx="185.53" cy="258.78" r="3.68" fill="#433b78"/>
<circle cx="181.47" cy="261.17" r="2.82" fill="#433b78"/>
<circle cx="175.73" cy="260.26" r="4.22" fill="#433b78"/>
<circle cx="170.21" cy="260.36" r="3.22" fill="#433b78"/>
<circle cx="166.18" cy="258.33" r="3.15" fill="#433b78"/>
<circle cx="165.65" cy="255.51" r="4.24" fill="#433b78"/>
<circle cx="165.44" cy="252.59" r="2.86" fill="#433b78"/>
<circle cx="169.63" cy="250.84" r="3.62" fill="#433b78"/>
<circle cx="174.79" cy="250.16" r="3.99" fill="#433b78"/>
<circle cx="180.53" cy="249.16" r="2.73" fill="#433b78"/>
<circle cx="184.64" cy="251.72" r="4.03" fill="#433b78"/>
<circle cx="187.78" cy="253.72" r="3.56" fill="#433b78"/>
<ellipse cx="176.60" cy="255.30" rx="12.40" ry="7.00" fill="#433b78"/>
<ellipse cx="171.60" cy="249.90" rx="3.00" ry="1.60" fill="#514987" opacity="0.5"/>
<ellipse cx="181.60" cy="260.90" rx="3.00" ry="1.60" fill="#514987" opacity="0.5"/>
<text x="177.00" y="257.90" font-size="7.2" text-anchor="middle" fill="#e4e1f3" font-weight="normal" >CoQH<tspan dy="1.6" font-size="4.8">2</tspan></text>
<circle cx="208.20" cy="268.70" r="9.00" fill="#f3aa7e"/>
<circle cx="224.20" cy="268.30" r="9.00" fill="#f3aa7e"/>
<circle cx="217.20" cy="271.70" r="10.50" fill="#f3aa7e"/>
<circle cx="208.20" cy="276.70" r="8.40" fill="#f3aa7e"/>
<circle cx="226.20" cy="276.70" r="8.40" fill="#f3aa7e"/>
<circle cx="217.20" cy="278.10" r="8.00" fill="#f3aa7e"/>
<circle cx="203.20" cy="271.70" r="5.00" fill="#f3aa7e"/>
<circle cx="231.60" cy="272.70" r="5.00" fill="#f3aa7e"/>
<circle cx="204.20" cy="264.70" r="4.60" fill="#f3aa7e"/>
<circle cx="230.20" cy="264.10" r="4.40" fill="#f3aa7e"/>
<circle cx="215.20" cy="262.30" r="4.60" fill="#f3aa7e"/>
<circle cx="223.20" cy="262.10" r="4.20" fill="#f3aa7e"/>
<circle cx="209.20" cy="262.70" r="4.00" fill="#f3aa7e"/>
<circle cx="203.20" cy="279.30" r="4.00" fill="#f3aa7e"/>
<circle cx="231.20" cy="279.70" r="4.20" fill="#f3aa7e"/>
<circle cx="221.20" cy="281.70" r="4.00" fill="#f3aa7e"/>
<circle cx="212.20" cy="281.70" r="4.00" fill="#f3aa7e"/>
<circle cx="232.20" cy="269.70" r="3.60" fill="#f3aa7e"/>
<ellipse cx="207.20" cy="265.70" rx="4.00" ry="2.40" fill="#ea9b6c" opacity="0.55"/>
<ellipse cx="227.20" cy="278.70" rx="4.00" ry="2.20" fill="#ea9b6c" opacity="0.55"/>
<ellipse cx="209.20" cy="279.70" rx="3.00" ry="2.00" fill="#ea9b6c" opacity="0.55"/>
<ellipse cx="225.20" cy="264.70" rx="4.00" ry="2.00" fill="#f7b990" opacity="0.7"/>
<ellipse cx="218.20" cy="280.70" rx="4.00" ry="1.80" fill="#f7b990" opacity="0.7"/>
<text x="216.80" y="274.90" font-size="8.6" text-anchor="middle" fill="#1a1a1a" font-weight="normal" >AOX</text>
<circle cx="257.50" cy="237.60" r="6.60" fill="#766bb1"/>
<circle cx="263.50" cy="239.10" r="6.00" fill="#766bb1"/>
<circle cx="253.00" cy="241.10" r="5.60" fill="#766bb1"/>
<circle cx="259.50" cy="245.60" r="9.00" fill="#766bb1"/>
<circle cx="249.50" cy="249.60" r="8.00" fill="#766bb1"/>
<circle cx="269.50" cy="248.60" r="8.50" fill="#766bb1"/>
<circle cx="273.50" cy="255.60" r="8.40" fill="#766bb1"/>
<circle cx="247.50" cy="258.60" r="7.80" fill="#766bb1"/>
<circle cx="259.50" cy="257.60" r="12.00" fill="#766bb1"/>
<circle cx="271.50" cy="265.60" r="9.00" fill="#766bb1"/>
<circle cx="248.50" cy="268.60" r="8.40" fill="#766bb1"/>
<circle cx="249.50" cy="277.60" r="8.60" fill="#766bb1"/>
<circle cx="271.50" cy="274.60" r="8.60" fill="#766bb1"/>
<circle cx="269.50" cy="281.60" r="7.60" fill="#766bb1"/>
<circle cx="251.50" cy="283.60" r="6.60" fill="#766bb1"/>
<circle cx="256.50" cy="276.60" r="6.00" fill="#766bb1"/>
<circle cx="264.50" cy="278.60" r="7.00" fill="#766bb1"/>
<circle cx="264.50" cy="285.60" r="5.00" fill="#766bb1"/>
<circle cx="245.50" cy="263.60" r="5.40" fill="#766bb1"/>
<circle cx="276.50" cy="261.60" r="5.20" fill="#766bb1"/>
<circle cx="259.50" cy="270.60" r="7.50" fill="#766bb1"/>
<circle cx="260.50" cy="281.60" r="5.00" fill="#766bb1"/>
<circle cx="273.50" cy="282.10" r="6.60" fill="#766bb1"/>
<circle cx="267.50" cy="285.20" r="4.90" fill="#766bb1"/>
<circle cx="250.50" cy="285.00" r="5.00" fill="#766bb1"/>
<ellipse cx="254.50" cy="244.60" rx="5.00" ry="3.00" fill="#675ca3" transform="rotate(-20 254.50 244.60)" opacity="0.42"/>
<ellipse cx="267.50" cy="252.60" rx="3.00" ry="6.00" fill="#675ca3" transform="rotate(10 267.50 252.60)" opacity="0.42"/>
<ellipse cx="248.50" cy="271.60" rx="4.00" ry="6.00" fill="#675ca3" opacity="0.42"/>
<ellipse cx="271.50" cy="273.60" rx="3.40" ry="6.00" fill="#675ca3" opacity="0.42"/>
<ellipse cx="261.50" cy="265.60" rx="4.00" ry="5.00" fill="#675ca3" opacity="0.42"/>
<ellipse cx="249.50" cy="255.60" rx="4.00" ry="5.00" fill="#877dc0" opacity="0.5"/>
<ellipse cx="274.50" cy="259.60" rx="3.00" ry="5.00" fill="#877dc0" opacity="0.5"/>
<ellipse cx="255.50" cy="279.60" rx="3.00" ry="5.00" fill="#877dc0" opacity="0.5"/>
<ellipse cx="265.50" cy="241.60" rx="4.00" ry="2.40" fill="#877dc0" opacity="0.5"/>
<ellipse cx="266.50" cy="281.60" rx="3.00" ry="4.00" fill="#877dc0" opacity="0.5"/>
<path d="M258.9,291 L258.6,273 Q258.8,266.6 260.2,263.6 Q262,266.6 261.8,273 L263.4,291Z" fill="#fff"/>
<text x="263.80" y="254.60" font-size="8.6" text-anchor="middle" fill="#e3dff2" font-weight="normal" >III</text>
<ellipse cx="262" cy="262.6" rx="17.2" ry="27.5" fill="none" stroke="#e2a436" stroke-width="4.7"/>
<line x1="248.2" y1="246.4" x2="275.8" y2="278.8" stroke="#e2a436" stroke-width="4.5"/>
<ellipse cx="262" cy="262.6" rx="17.2" ry="27.5" fill="none" stroke="#f8c854" stroke-width="3.3"/>
<line x1="248.2" y1="246.4" x2="275.8" y2="278.8" stroke="#f8c854" stroke-width="3.1"/>
<circle cx="294.00" cy="237.00" r="8.60" fill="#433b78"/>
<circle cx="310.00" cy="237.00" r="8.60" fill="#433b78"/>
<circle cx="302.00" cy="236.00" r="9.40" fill="#433b78"/>
<circle cx="301.00" cy="228.00" r="7.60" fill="#433b78"/>
<circle cx="308.00" cy="227.00" r="6.60" fill="#433b78"/>
<circle cx="296.00" cy="226.40" r="5.60" fill="#433b78"/>
<circle cx="289.00" cy="239.00" r="5.00" fill="#433b78"/>
<circle cx="315.50" cy="238.40" r="4.60" fill="#433b78"/>
<circle cx="293.00" cy="243.00" r="4.60" fill="#433b78"/>
<circle cx="310.00" cy="243.00" r="4.80" fill="#433b78"/>
<circle cx="302.00" cy="243.60" r="5.00" fill="#433b78"/>
<circle cx="312.00" cy="231.00" r="5.00" fill="#433b78"/>
<circle cx="291.00" cy="232.00" r="4.60" fill="#433b78"/>
<circle cx="304.00" cy="222.60" r="3.60" fill="#433b78"/>
<circle cx="298.00" cy="223.00" r="3.20" fill="#433b78"/>
<circle cx="310.00" cy="223.40" r="3.00" fill="#433b78"/>
<ellipse cx="293.00" cy="234.00" rx="3.00" ry="2.00" fill="#514987" opacity="0.6"/>
<ellipse cx="311.00" cy="241.00" rx="3.00" ry="2.00" fill="#514987" opacity="0.6"/>
<ellipse cx="306.00" cy="226.00" rx="3.00" ry="2.00" fill="#514987" opacity="0.6"/>
<ellipse cx="298.00" cy="243.00" rx="3.00" ry="1.60" fill="#514987" opacity="0.6"/>
<text x="301.60" y="239.20" font-size="7.4" text-anchor="middle" fill="#e4e1f3" font-weight="normal" >CytC</text>
<circle cx="350.40" cy="235.10" r="9.00" fill="#766bb1"/>
<circle cx="360.40" cy="233.10" r="7.60" fill="#766bb1"/>
<circle cx="367.40" cy="232.10" r="5.20" fill="#766bb1"/>
<circle cx="371.40" cy="232.10" r="3.60" fill="#766bb1"/>
<circle cx="340.40" cy="241.10" r="9.00" fill="#766bb1"/>
<circle cx="331.40" cy="241.10" r="6.00" fill="#766bb1"/>
<circle cx="326.90" cy="239.60" r="3.20" fill="#766bb1"/>
<circle cx="355.40" cy="245.10" r="12.00" fill="#766bb1"/>
<circle cx="367.40" cy="243.10" r="7.60" fill="#766bb1"/>
<circle cx="337.40" cy="251.10" r="10.40" fill="#766bb1"/>
<circle cx="353.40" cy="257.10" r="13.00" fill="#766bb1"/>
<circle cx="365.40" cy="255.10" r="9.40" fill="#766bb1"/>
<circle cx="334.40" cy="259.10" r="6.60" fill="#766bb1"/>
<circle cx="341.00" cy="266.50" r="9.60" fill="#766bb1"/>
<circle cx="355.40" cy="269.10" r="11.40" fill="#766bb1"/>
<circle cx="365.40" cy="267.10" r="8.40" fill="#766bb1"/>
<circle cx="369.40" cy="251.10" r="5.40" fill="#766bb1"/>
<circle cx="343.40" cy="274.10" r="6.50" fill="#766bb1"/>
<circle cx="359.40" cy="274.10" r="6.60" fill="#766bb1"/>
<circle cx="351.40" cy="274.90" r="5.70" fill="#766bb1"/>
<circle cx="330.40" cy="250.10" r="4.20" fill="#766bb1"/>
<circle cx="370.80" cy="261.10" r="4.40" fill="#766bb1"/>
<circle cx="335.90" cy="270.10" r="4.40" fill="#766bb1"/>
<circle cx="367.00" cy="273.10" r="4.40" fill="#766bb1"/>
<ellipse cx="343.40" cy="239.10" rx="6.00" ry="3.00" fill="#675ca3" transform="rotate(-10 343.40 239.10)" opacity="0.42"/>
<ellipse cx="363.40" cy="239.10" rx="5.00" ry="2.60" fill="#675ca3" opacity="0.42"/>
<ellipse cx="335.40" cy="253.10" rx="4.00" ry="6.00" fill="#675ca3" opacity="0.42"/>
<ellipse cx="359.40" cy="251.10" rx="6.00" ry="3.00" fill="#675ca3" transform="rotate(10 359.40 251.10)" opacity="0.42"/>
<ellipse cx="347.40" cy="267.10" rx="6.00" ry="3.40" fill="#675ca3" opacity="0.42"/>
<ellipse cx="365.40" cy="265.10" rx="3.40" ry="5.00" fill="#675ca3" opacity="0.42"/>
<ellipse cx="353.40" cy="243.10" rx="4.00" ry="2.40" fill="#675ca3" opacity="0.42"/>
<ellipse cx="355.40" cy="234.10" rx="5.00" ry="2.40" fill="#877dc0" opacity="0.5"/>
<ellipse cx="333.40" cy="243.10" rx="4.00" ry="2.60" fill="#877dc0" opacity="0.5"/>
<ellipse cx="367.40" cy="247.10" rx="3.00" ry="4.00" fill="#877dc0" opacity="0.5"/>
<ellipse cx="341.40" cy="261.10" rx="4.00" ry="3.00" fill="#877dc0" opacity="0.5"/>
<ellipse cx="359.40" cy="263.10" rx="5.00" ry="2.60" fill="#877dc0" opacity="0.5"/>
<ellipse cx="353.40" cy="274.10" rx="5.00" ry="2.40" fill="#877dc0" opacity="0.5"/>
<ellipse cx="345.40" cy="249.10" rx="5.00" ry="2.60" fill="#877dc0" opacity="0.5"/>
<text x="351.20" y="260.30" font-size="8.6" text-anchor="middle" fill="#e3dff2" font-weight="normal" >IV</text>
<circle cx="412.10" cy="243.00" r="5.40" fill="#766bb1"/>
<circle cx="411.30" cy="247.00" r="6.40" fill="#766bb1"/>
<circle cx="410.50" cy="252.00" r="7.20" fill="#766bb1"/>
<circle cx="409.70" cy="257.00" r="8.60" fill="#766bb1"/>
<circle cx="410.10" cy="262.00" r="10.00" fill="#766bb1"/>
<circle cx="409.10" cy="267.00" r="12.40" fill="#766bb1"/>
<circle cx="401.80" cy="271.00" r="7.60" fill="#766bb1"/>
<circle cx="410.30" cy="279.00" r="14.00" fill="#766bb1"/>
<circle cx="399.30" cy="277.00" r="9.00" fill="#766bb1"/>
<circle cx="400.80" cy="284.00" r="9.40" fill="#766bb1"/>
<circle cx="419.30" cy="274.00" r="8.00" fill="#766bb1"/>
<circle cx="421.80" cy="280.00" r="9.00" fill="#766bb1"/>
<circle cx="423.30" cy="286.00" r="9.00" fill="#766bb1"/>
<circle cx="404.30" cy="289.00" r="8.40" fill="#766bb1"/>
<circle cx="421.90" cy="289.00" r="8.80" fill="#766bb1"/>
<circle cx="412.80" cy="291.00" r="9.00" fill="#766bb1"/>
<circle cx="408.30" cy="292.50" r="6.40" fill="#766bb1"/>
<circle cx="417.30" cy="292.50" r="6.40" fill="#766bb1"/>
<circle cx="412.10" cy="297.50" r="5.40" fill="#766bb1"/>
<circle cx="412.10" cy="300.00" r="4.20" fill="#766bb1"/>
<circle cx="405.90" cy="248.60" r="2.40" fill="#766bb1"/>
<circle cx="416.90" cy="256.00" r="2.60" fill="#766bb1"/>
<circle cx="397.70" cy="268.60" r="2.60" fill="#766bb1"/>
<circle cx="425.70" cy="271.60" r="2.80" fill="#766bb1"/>
<ellipse cx="411.30" cy="248.00" rx="2.60" ry="4.00" fill="#675ca3" opacity="0.42"/>
<ellipse cx="405.30" cy="266.00" rx="3.00" ry="5.00" fill="#675ca3" transform="rotate(20 405.30 266.00)" opacity="0.42"/>
<ellipse cx="417.30" cy="273.00" rx="5.00" ry="3.00" fill="#675ca3" opacity="0.42"/>
<ellipse cx="400.30" cy="284.00" rx="5.00" ry="3.00" fill="#675ca3" opacity="0.42"/>
<ellipse cx="421.30" cy="288.00" rx="5.00" ry="2.60" fill="#675ca3" opacity="0.42"/>
<ellipse cx="411.30" cy="294.00" rx="4.00" ry="2.20" fill="#675ca3" opacity="0.42"/>
<ellipse cx="413.30" cy="260.00" rx="2.60" ry="5.00" fill="#877dc0" transform="rotate(-10 413.30 260.00)" opacity="0.5"/>
<ellipse cx="401.30" cy="276.00" rx="4.00" ry="3.00" fill="#877dc0" opacity="0.5"/>
<ellipse cx="423.30" cy="281.00" rx="4.00" ry="2.60" fill="#877dc0" opacity="0.5"/>
<ellipse cx="411.30" cy="286.00" rx="6.00" ry="2.40" fill="#877dc0" opacity="0.5"/>
<ellipse cx="405.30" cy="291.00" rx="4.00" ry="2.00" fill="#877dc0" opacity="0.5"/>
<text x="411.50" y="279.80" font-size="8.6" text-anchor="middle" fill="#e3dff2" font-weight="normal" >V</text>
<line x1="121.40" y1="219.80" x2="140.20" y2="242.16" stroke="#111" stroke-width="0.9" stroke-linecap="round"/>
<path d="M142.00,244.30 L138.14,242.32 L140.71,240.16Z" fill="#111"/>
<line x1="92.50" y1="242.30" x2="132.87" y2="251.29" stroke="#111" stroke-width="0.9" stroke-linecap="round"/>
<path d="M135.60,251.90 L131.33,252.67 L132.06,249.39Z" fill="#111"/>
<line x1="125.20" y1="274.20" x2="135.45" y2="266.57" stroke="#111" stroke-width="0.9" stroke-linecap="round"/>
<path d="M137.70,264.90 L135.49,268.64 L133.49,265.94Z" fill="#111"/>
<path d="M149.5,245 C156,237.6 168,237.6 175.6,241.6" fill="none" stroke="#111" stroke-width="1.5" stroke-linecap="round" />
<path d="M179.40,243.80 L174.24,243.15 L176.25,239.65Z" fill="#111"/>
<line x1="191.70" y1="252.30" x2="205.60" y2="260.41" stroke="#111" stroke-width="1.5" stroke-linecap="round"/>
<path d="M208.50,262.10 L203.34,261.42 L205.37,257.94Z" fill="#111"/>
<text x="37.00" y="284.50" font-size="8.6" text-anchor="start" fill="#ee1c25" font-weight="normal" >O<tspan dy="2.2" font-size="5.4">2</tspan><tspan dy="-5.4" font-size="6.4">•−</tspan></text>
<path d="M101.53,306.61 A18.0,18.0 0 0 1 117.08,316.71" fill="none" stroke="#111" stroke-width="1.5" stroke-linecap="round" />
<path d="M118.11,319.34 L113.14,316.42 L117.27,313.63Z" fill="#111"/>
<path d="M118.63,327.73 A18.0,18.0 0 0 1 108.51,340.91" fill="none" stroke="#111" stroke-width="1.5" stroke-linecap="round" />
<path d="M105.86,341.90 L108.86,336.98 L111.58,341.16Z" fill="#111"/>
<path d="M98.39,342.42 A18.0,18.0 0 0 1 84.86,332.77" fill="none" stroke="#111" stroke-width="1.5" stroke-linecap="round" />
<path d="M83.78,330.16 L88.81,332.99 L84.72,335.85Z" fill="#111"/>
<path d="M83.00,322.72 A18.0,18.0 0 0 1 93.29,308.29" fill="none" stroke="#111" stroke-width="1.5" stroke-linecap="round" />
<path d="M95.94,307.30 L92.94,312.22 L90.22,308.04Z" fill="#111"/>
<text x="100.90" y="327.10" font-size="7.6" text-anchor="middle" fill="#111" font-weight="normal" textLength="34.2" lengthAdjust="spacingAndGlyphs" >TCA cycle</text>
<path d="M86.8,306.6 C80,317 63,322 52.8,311.8" fill="none" stroke="#111" stroke-width="0.9" stroke-linecap="round" />
<path d="M50.90,308.00 L54.26,310.74 L51.29,312.32Z" fill="#111"/>
<line x1="122.10" y1="325.90" x2="185.00" y2="325.90" stroke="#8a8a8a" stroke-width="1.5" />
<path d="M189.00,325.90 L184.60,327.75 L184.60,324.05Z" fill="#222"/>
<line x1="412.00" y1="302.40" x2="412.00" y2="313.84" stroke="#111" stroke-width="0.9" stroke-linecap="round"/>
<path d="M412.00,316.50 L410.40,312.70 L413.60,312.70Z" fill="#111"/>
<path d="M390.3,308 Q396.5,300.4 405.4,297.8" fill="none" stroke="#111" stroke-width="1.2" stroke-linecap="round" />
<path d="M419.8,297.8 Q426.5,300 430.6,304.6" fill="none" stroke="#111" stroke-width="1.2" stroke-linecap="round" />
<path d="M433.40,307.60 L429.08,305.57 L431.83,303.09Z" fill="#111"/>
<text x="534.50" y="10.60" font-size="13.5" text-anchor="start" fill="#000" font-weight="bold" stroke="#000" stroke-width="0.45">b</text>
<line x1="579.00" y1="22.20" x2="579.00" y2="143.60" stroke="#6f6f6f" stroke-width="0.9" />
<line x1="578.60" y1="143.20" x2="669.50" y2="143.20" stroke="#6f6f6f" stroke-width="0.9" />
<line x1="573.20" y1="22.60" x2="579.00" y2="22.60" stroke="#6f6f6f" stroke-width="0.9" />
<text x="571.30" y="25.30" font-size="7.8" text-anchor="end" fill="#333" font-weight="normal" >1.0</text>
<line x1="573.20" y1="46.72" x2="579.00" y2="46.72" stroke="#6f6f6f" stroke-width="0.9" />
<text x="571.30" y="49.42" font-size="7.8" text-anchor="end" fill="#333" font-weight="normal" >0.8</text>
<line x1="573.20" y1="70.84" x2="579.00" y2="70.84" stroke="#6f6f6f" stroke-width="0.9" />
<text x="571.30" y="73.54" font-size="7.8" text-anchor="end" fill="#333" font-weight="normal" >0.6</text>
<line x1="573.20" y1="94.96" x2="579.00" y2="94.96" stroke="#6f6f6f" stroke-width="0.9" />
<text x="571.30" y="97.66" font-size="7.8" text-anchor="end" fill="#333" font-weight="normal" >0.4</text>
<line x1="573.20" y1="119.08" x2="579.00" y2="119.08" stroke="#6f6f6f" stroke-width="0.9" />
<text x="571.30" y="121.78" font-size="7.8" text-anchor="end" fill="#333" font-weight="normal" >0.2</text>
<line x1="573.20" y1="143.20" x2="579.00" y2="143.20" stroke="#6f6f6f" stroke-width="0.9" />
<text x="571.30" y="145.90" font-size="7.8" text-anchor="end" fill="#333" font-weight="normal" >0</text>
<rect x="588.30" y="82.40" width="17.60" height="60.80" fill="#676767" stroke="#4a4a4a" stroke-width="0.9"/>
<rect x="615.20" y="142.20" width="17.80" height="1.00" fill="#d9d9d9" stroke="#333" stroke-width="0.9"/>
<rect x="643.20" y="138.60" width="17.20" height="4.60" fill="#9a9a9a" stroke="#333" stroke-width="0.9"/>
<line x1="597.10" y1="66.30" x2="597.10" y2="97.30" stroke="#8a8a8a" stroke-width="0.9" />
<line x1="592.30" y1="66.30" x2="601.90" y2="66.30" stroke="#8a8a8a" stroke-width="0.9" />
<line x1="592.30" y1="97.30" x2="601.90" y2="97.30" stroke="#8a8a8a" stroke-width="0.9" />
<circle cx="593.50" cy="34.00" r="2.05" fill="#000"/>
<circle cx="600.70" cy="37.30" r="2.05" fill="#000"/>
<circle cx="597.00" cy="62.40" r="2.05" fill="#000"/>
<circle cx="593.50" cy="85.50" r="2.05" fill="#000"/>
<circle cx="600.70" cy="84.50" r="2.05" fill="#000"/>
<circle cx="597.00" cy="129.00" r="2.05" fill="#000"/>
<circle cx="597.00" cy="138.20" r="2.05" fill="#000"/>
<rect x="614.85" y="140.65" width="3.9" height="3.9" fill="#000"/>
<rect x="618.75" y="137.75" width="3.9" height="3.9" fill="#000"/>
<rect x="622.35" y="140.05" width="3.9" height="3.9" fill="#000"/>
<rect x="625.95" y="138.45" width="3.9" height="3.9" fill="#000"/>
<rect x="629.55" y="140.85" width="3.9" height="3.9" fill="#000"/>
<path d="M651.30,124.42 L653.10,127.66 L649.50,127.66Z" fill="#000"/>
<path d="M651.30,130.62 L653.10,133.86 L649.50,133.86Z" fill="#000"/>
<path d="M644.60,139.72 L646.40,142.96 L642.80,142.96Z" fill="#000"/>
<path d="M648.20,137.62 L650.00,140.86 L646.40,140.86Z" fill="#000"/>
<path d="M651.80,139.72 L653.60,142.96 L650.00,142.96Z" fill="#000"/>
<path d="M655.20,137.62 L657.00,140.86 L653.40,140.86Z" fill="#000"/>
<path d="M658.80,140.72 L660.60,143.96 L657.00,143.96Z" fill="#000"/>
<line x1="596.90" y1="15.30" x2="651.80" y2="15.30" stroke="#444" stroke-width="0.8" />
<path d="M624.00,8.60L624.00,6.45M624.00,8.60L626.04,7.94M624.00,8.60L625.26,10.34M624.00,8.60L622.74,10.34M624.00,8.60L621.96,7.94" stroke="#222" stroke-width="0.85" fill="none"/>
<line x1="596.90" y1="30.40" x2="624.60" y2="30.40" stroke="#444" stroke-width="0.8" />
<path d="M608.40,24.80L608.40,22.65M608.40,24.80L610.44,24.14M608.40,24.80L609.66,26.54M608.40,24.80L607.14,26.54M608.40,24.80L606.36,24.14" stroke="#222" stroke-width="0.85" fill="none"/>
<text transform="translate(541.40,78.50) rotate(-90)" font-size="8.2" text-anchor="middle" fill="#222" textLength="83" lengthAdjust="spacingAndGlyphs">Normalized peak area</text>
<text transform="translate(552.00,78.50) rotate(-90)" font-size="8.2" text-anchor="middle" fill="#222" textLength="58" lengthAdjust="spacingAndGlyphs">(RISP/vinculin)</text>
<text x="598.60" y="153.40" font-size="7.0" text-anchor="middle" fill="#303030" font-weight="normal" textLength="15.3" lengthAdjust="spacingAndGlyphs" >RISP</text>
<text x="598.60" y="161.90" font-size="7.0" text-anchor="middle" fill="#303030" font-weight="normal" textLength="10.0" lengthAdjust="spacingAndGlyphs" >WT</text>
<text x="624.40" y="153.40" font-size="7.0" text-anchor="middle" fill="#303030" font-weight="normal" textLength="15.3" lengthAdjust="spacingAndGlyphs" >RISP</text>
<text x="624.40" y="161.90" font-size="7.0" text-anchor="middle" fill="#303030" font-weight="normal" textLength="10.4" lengthAdjust="spacingAndGlyphs" >KO</text>
<text x="650.60" y="153.40" font-size="7.0" text-anchor="middle" fill="#303030" font-weight="normal" textLength="15.3" lengthAdjust="spacingAndGlyphs" >RISP</text>
<text x="651.40" y="161.90" font-size="7.0" text-anchor="middle" fill="#303030" font-weight="normal" textLength="33.4" lengthAdjust="spacingAndGlyphs" >KO + AOX</text>
<text x="535.00" y="184.20" font-size="13.5" text-anchor="start" fill="#000" font-weight="bold" stroke="#000" stroke-width="0.45">c</text>
<line x1="582.60" y1="193.70" x2="582.60" y2="323.20" stroke="#6f6f6f" stroke-width="0.9" />
<line x1="582.20" y1="322.80" x2="679.00" y2="322.80" stroke="#6f6f6f" stroke-width="0.9" />
<line x1="576.80" y1="194.10" x2="582.60" y2="194.10" stroke="#6f6f6f" stroke-width="0.9" />
<text x="573.60" y="196.80" font-size="7.8" text-anchor="end" fill="#333" font-weight="normal" >0.15</text>
<line x1="576.80" y1="237.00" x2="582.60" y2="237.00" stroke="#6f6f6f" stroke-width="0.9" />
<text x="573.60" y="239.70" font-size="7.8" text-anchor="end" fill="#333" font-weight="normal" >0.10</text>
<line x1="576.80" y1="279.90" x2="582.60" y2="279.90" stroke="#6f6f6f" stroke-width="0.9" />
<text x="573.60" y="282.60" font-size="7.8" text-anchor="end" fill="#333" font-weight="normal" >0.05</text>
<line x1="576.80" y1="322.80" x2="582.60" y2="322.80" stroke="#6f6f6f" stroke-width="0.9" />
<text x="573.60" y="325.50" font-size="7.8" text-anchor="end" fill="#333" font-weight="normal" >0</text>
<rect x="650.80" y="258.90" width="17.80" height="63.90" fill="#9a9a9a" stroke="#222" stroke-width="0.9"/>
<line x1="659.70" y1="244.00" x2="659.70" y2="272.20" stroke="#555" stroke-width="0.9" />
<line x1="654.90" y1="244.00" x2="664.50" y2="244.00" stroke="#555" stroke-width="0.9" />
<line x1="654.90" y1="272.20" x2="664.50" y2="272.20" stroke="#555" stroke-width="0.9" />
<circle cx="593.90" cy="322.50" r="2.05" fill="#000"/>
<circle cx="598.80" cy="321.70" r="2.05" fill="#000"/>
<circle cx="601.80" cy="316.90" r="2.05" fill="#000"/>
<circle cx="604.20" cy="322.50" r="2.05" fill="#000"/>
<circle cx="609.00" cy="321.90" r="2.05" fill="#000"/>
<rect x="621.15" y="320.85" width="3.9" height="3.9" fill="#000"/>
<rect x="626.45" y="320.85" width="3.9" height="3.9" fill="#000"/>
<rect x="631.25" y="320.85" width="3.9" height="3.9" fill="#000"/>
<rect x="636.55" y="320.85" width="3.9" height="3.9" fill="#000"/>
<path d="M656.10,231.17 L658.35,235.22 L653.85,235.22Z" fill="#000"/>
<path d="M656.10,235.37 L658.35,239.42 L653.85,239.42Z" fill="#000"/>
<path d="M663.80,234.57 L666.05,238.62 L661.55,238.62Z" fill="#000"/>
<path d="M659.90,279.07 L662.15,283.12 L657.65,283.12Z" fill="#000"/>
<path d="M659.90,300.57 L662.15,304.62 L657.65,304.62Z" fill="#000"/>
<line x1="599.00" y1="206.40" x2="664.00" y2="206.40" stroke="#444" stroke-width="0.8" />
<path d="M630.30,200.40L630.30,198.25M630.30,200.40L632.34,199.74M630.30,200.40L631.56,202.14M630.30,200.40L629.04,202.14M630.30,200.40L628.26,199.74" stroke="#222" stroke-width="0.85" fill="none"/>
<line x1="626.70" y1="223.30" x2="663.30" y2="223.30" stroke="#444" stroke-width="0.8" />
<path d="M644.00,217.50L644.00,215.35M644.00,217.50L646.04,216.84M644.00,217.50L645.26,219.24M644.00,217.50L642.74,219.24M644.00,217.50L641.96,216.84" stroke="#222" stroke-width="0.85" fill="none"/>
<text transform="translate(550.60,262.50) rotate(-90)" font-size="8.2" text-anchor="middle" fill="#222" textLength="94" lengthAdjust="spacingAndGlyphs">AOX/bactin transcripts</text>
<text x="601.40" y="332.90" font-size="7.0" text-anchor="middle" fill="#303030" font-weight="normal" textLength="15.3" lengthAdjust="spacingAndGlyphs" >RISP</text>
<text x="601.40" y="341.10" font-size="7.0" text-anchor="middle" fill="#303030" font-weight="normal" textLength="10.0" lengthAdjust="spacingAndGlyphs" >WT</text>
<text x="630.80" y="332.90" font-size="7.0" text-anchor="middle" fill="#303030" font-weight="normal" textLength="15.3" lengthAdjust="spacingAndGlyphs" >RISP</text>
<text x="630.80" y="341.10" font-size="7.0" text-anchor="middle" fill="#303030" font-weight="normal" textLength="10.4" lengthAdjust="spacingAndGlyphs" >KO</text>
<text x="659.70" y="332.90" font-size="7.0" text-anchor="middle" fill="#303030" font-weight="normal" textLength="15.3" lengthAdjust="spacingAndGlyphs" >RISP</text>
<text x="659.70" y="341.10" font-size="7.0" text-anchor="middle" fill="#303030" font-weight="normal" textLength="33.4" lengthAdjust="spacingAndGlyphs" >KO + AOX</text>
<text x="-0.50" y="366.80" font-size="13.5" text-anchor="start" fill="#000" font-weight="bold" stroke="#000" stroke-width="0.45">d</text>
<line x1="37.00" y1="380.30" x2="37.00" y2="494.20" stroke="#6f6f6f" stroke-width="0.9" />
<line x1="36.60" y1="493.80" x2="229.60" y2="493.80" stroke="#6f6f6f" stroke-width="0.9" />
<line x1="31.20" y1="380.70" x2="37.00" y2="380.70" stroke="#6f6f6f" stroke-width="0.9" />
<text x="27.20" y="383.40" font-size="7.8" text-anchor="end" fill="#333" font-weight="normal" >60</text>
<line x1="31.20" y1="418.40" x2="37.00" y2="418.40" stroke="#6f6f6f" stroke-width="0.9" />
<text x="27.20" y="421.10" font-size="7.8" text-anchor="end" fill="#333" font-weight="normal" >40</text>
<line x1="31.20" y1="456.10" x2="37.00" y2="456.10" stroke="#6f6f6f" stroke-width="0.9" />
<text x="27.20" y="458.80" font-size="7.8" text-anchor="end" fill="#333" font-weight="normal" >20</text>
<line x1="31.20" y1="493.80" x2="37.00" y2="493.80" stroke="#6f6f6f" stroke-width="0.9" />
<text x="27.20" y="496.50" font-size="7.8" text-anchor="end" fill="#333" font-weight="normal" >0</text>
<rect x="45.80" y="421.30" width="17.20" height="72.50" fill="#676767" stroke="#2e2e2e" stroke-width="0.9"/>
<line x1="54.40" y1="414.20" x2="54.40" y2="426.80" stroke="#333" stroke-width="0.9" />
<line x1="49.15" y1="414.20" x2="59.65" y2="414.20" stroke="#333" stroke-width="0.9" />
<line x1="49.15" y1="426.80" x2="59.65" y2="426.80" stroke="#333" stroke-width="0.9" />
<rect x="73.60" y="475.90" width="17.10" height="17.90" fill="#d9d9d9" stroke="#2e2e2e" stroke-width="0.9"/>
<line x1="82.20" y1="472.70" x2="82.20" y2="479.50" stroke="#333" stroke-width="0.9" />
<line x1="76.95" y1="472.70" x2="87.45" y2="472.70" stroke="#333" stroke-width="0.9" />
<line x1="76.95" y1="479.50" x2="87.45" y2="479.50" stroke="#333" stroke-width="0.9" />
<rect x="101.30" y="433.60" width="17.10" height="60.20" fill="#9a9a9a" stroke="#2e2e2e" stroke-width="0.9"/>
<line x1="109.90" y1="429.60" x2="109.90" y2="436.60" stroke="#333" stroke-width="0.9" />
<line x1="104.65" y1="429.60" x2="115.15" y2="429.60" stroke="#333" stroke-width="0.9" />
<line x1="104.65" y1="436.60" x2="115.15" y2="436.60" stroke="#333" stroke-width="0.9" />
<circle cx="54.70" cy="392.80" r="2.0" fill="#000"/>
<circle cx="59.40" cy="410.70" r="2.0" fill="#000"/>
<circle cx="50.40" cy="415.20" r="2.0" fill="#000"/>
<circle cx="54.70" cy="423.00" r="2.0" fill="#000"/>
<circle cx="50.40" cy="427.60" r="2.0" fill="#000"/>
<circle cx="59.40" cy="431.10" r="2.0" fill="#000"/>
<circle cx="54.70" cy="440.70" r="2.0" fill="#000"/>
<rect x="76.20" y="465.50" width="3.8" height="3.8" fill="#000"/>
<rect x="85.00" y="467.50" width="3.8" height="3.8" fill="#000"/>
<rect x="80.50" y="472.80" width="3.8" height="3.8" fill="#000"/>
<rect x="76.20" y="481.60" width="3.8" height="3.8" fill="#000"/>
<rect x="85.00" y="479.80" width="3.8" height="3.8" fill="#000"/>
<path d="M105.80,423.07 L108.05,427.12 L103.55,427.12Z" fill="#000"/>
<path d="M114.60,421.37 L116.85,425.42 L112.35,425.42Z" fill="#000"/>
<path d="M110.10,428.87 L112.35,432.92 L107.85,432.92Z" fill="#000"/>
<path d="M114.60,429.67 L116.85,433.72 L112.35,433.72Z" fill="#000"/>
<path d="M105.80,442.27 L108.05,446.32 L103.55,446.32Z" fill="#000"/>
<path d="M114.60,439.67 L116.85,443.72 L112.35,443.72Z" fill="#000"/>
<rect x="147.50" y="443.20" width="17.30" height="50.60" fill="#676767" stroke="#2e2e2e" stroke-width="0.9"/>
<line x1="156.20" y1="438.90" x2="156.20" y2="447.00" stroke="#333" stroke-width="0.9" />
<line x1="150.95" y1="438.90" x2="161.45" y2="438.90" stroke="#333" stroke-width="0.9" />
<line x1="150.95" y1="447.00" x2="161.45" y2="447.00" stroke="#333" stroke-width="0.9" />
<rect x="175.40" y="485.00" width="17.10" height="8.80" fill="#d9d9d9" stroke="#2e2e2e" stroke-width="0.9"/>
<line x1="184.00" y1="482.20" x2="184.00" y2="487.80" stroke="#333" stroke-width="0.9" />
<line x1="178.75" y1="482.20" x2="189.25" y2="482.20" stroke="#333" stroke-width="0.9" />
<line x1="178.75" y1="487.80" x2="189.25" y2="487.80" stroke="#333" stroke-width="0.9" />
<rect x="203.10" y="466.90" width="17.20" height="26.90" fill="#9a9a9a" stroke="#2e2e2e" stroke-width="0.9"/>
<line x1="211.70" y1="463.40" x2="211.70" y2="470.40" stroke="#333" stroke-width="0.9" />
<line x1="206.45" y1="463.40" x2="216.95" y2="463.40" stroke="#333" stroke-width="0.9" />
<line x1="206.45" y1="470.40" x2="216.95" y2="470.40" stroke="#333" stroke-width="0.9" />
<circle cx="149.20" cy="431.10" r="2.0" fill="#000"/>
<circle cx="163.30" cy="434.10" r="2.0" fill="#000"/>
<circle cx="156.30" cy="438.20" r="2.0" fill="#000"/>
<circle cx="149.20" cy="442.70" r="2.0" fill="#000"/>
<circle cx="163.30" cy="443.20" r="2.0" fill="#000"/>
<circle cx="156.30" cy="446.20" r="2.0" fill="#000"/>
<circle cx="156.30" cy="461.30" r="2.0" fill="#000"/>
<rect x="175.00" y="478.60" width="3.8" height="3.8" fill="#000"/>
<rect x="189.10" y="479.10" width="3.8" height="3.8" fill="#000"/>
<rect x="182.10" y="480.30" width="3.8" height="3.8" fill="#000"/>
<rect x="185.60" y="485.40" width="3.8" height="3.8" fill="#000"/>
<rect x="178.60" y="488.10" width="3.8" height="3.8" fill="#000"/>
<path d="M204.90,456.57 L207.15,460.62 L202.65,460.62Z" fill="#000"/>
<path d="M211.70,456.57 L213.95,460.62 L209.45,460.62Z" fill="#000"/>
<path d="M218.50,459.07 L220.75,463.12 L216.25,463.12Z" fill="#000"/>
<path d="M211.70,463.17 L213.95,467.22 L209.45,467.22Z" fill="#000"/>
<path d="M208.20,475.27 L210.45,479.32 L205.95,479.32Z" fill="#000"/>
<path d="M214.70,475.27 L216.95,479.32 L212.45,479.32Z" fill="#000"/>
<line x1="54.70" y1="380.70" x2="82.60" y2="380.70" stroke="#a8a8a8" stroke-width="1.0" />
<path d="M67.00,374.70L67.00,372.55M67.00,374.70L69.04,374.04M67.00,374.70L68.26,376.44M67.00,374.70L65.74,376.44M67.00,374.70L64.96,374.04" stroke="#222" stroke-width="0.85" fill="none"/>
<line x1="82.60" y1="403.40" x2="110.10" y2="403.40" stroke="#444" stroke-width="0.8" />
<path d="M96.50,399.10L96.50,396.95M96.50,399.10L98.54,398.44M96.50,399.10L97.76,400.84M96.50,399.10L95.24,400.84M96.50,399.10L94.46,398.44" stroke="#222" stroke-width="0.85" fill="none"/>
<line x1="156.00" y1="380.70" x2="211.40" y2="380.70" stroke="#a8a8a8" stroke-width="1.0" />
<path d="M183.00,375.20L183.00,373.05M183.00,375.20L185.04,374.54M183.00,375.20L184.26,376.94M183.00,375.20L181.74,376.94M183.00,375.20L180.96,374.54" stroke="#222" stroke-width="0.85" fill="none"/>
<line x1="156.00" y1="403.40" x2="181.70" y2="403.40" stroke="#444" stroke-width="0.8" />
<path d="M169.60,398.40L169.60,396.25M169.60,398.40L171.64,397.74M169.60,398.40L170.86,400.14M169.60,398.40L168.34,400.14M169.60,398.40L167.56,397.74" stroke="#222" stroke-width="0.85" fill="none"/>
<line x1="186.00" y1="403.40" x2="211.40" y2="403.40" stroke="#444" stroke-width="0.8" />
<path d="M198.10,398.40L198.10,396.25M198.10,398.40L200.14,397.74M198.10,398.40L199.36,400.14M198.10,398.40L196.84,400.14M198.10,398.40L196.06,397.74" stroke="#222" stroke-width="0.85" fill="none"/>
<text transform="translate(10.40,437.50) rotate(-90)" font-size="8" text-anchor="middle" fill="#222" textLength="71.8" lengthAdjust="spacingAndGlyphs">OCR (pmol min<tspan dy="-2.6" font-size="5.4">−1</tspan><tspan dy="2.6">)</tspan></text>
<text x="54.70" y="503.70" font-size="7.0" text-anchor="middle" fill="#303030" font-weight="normal" textLength="15.3" lengthAdjust="spacingAndGlyphs" >RISP</text>
<text x="54.70" y="512.50" font-size="7.0" text-anchor="middle" fill="#303030" font-weight="normal" textLength="10.0" lengthAdjust="spacingAndGlyphs" >WT</text>
<text x="82.40" y="503.70" font-size="7.0" text-anchor="middle" fill="#303030" font-weight="normal" textLength="15.3" lengthAdjust="spacingAndGlyphs" >RISP</text>
<text x="82.40" y="512.50" font-size="7.0" text-anchor="middle" fill="#303030" font-weight="normal" textLength="10.4" lengthAdjust="spacingAndGlyphs" >KO</text>
<text x="110.10" y="503.70" font-size="7.0" text-anchor="middle" fill="#303030" font-weight="normal" textLength="15.3" lengthAdjust="spacingAndGlyphs" >RISP</text>
<text x="110.10" y="512.50" font-size="7.0" text-anchor="middle" fill="#303030" font-weight="normal" textLength="33.4" lengthAdjust="spacingAndGlyphs" >KO + AOX</text>
<text x="156.30" y="503.70" font-size="7.0" text-anchor="middle" fill="#303030" font-weight="normal" textLength="15.3" lengthAdjust="spacingAndGlyphs" >RISP</text>
<text x="156.30" y="512.50" font-size="7.0" text-anchor="middle" fill="#303030" font-weight="normal" textLength="10.0" lengthAdjust="spacingAndGlyphs" >WT</text>
<text x="184.00" y="503.70" font-size="7.0" text-anchor="middle" fill="#303030" font-weight="normal" textLength="15.3" lengthAdjust="spacingAndGlyphs" >RISP</text>
<text x="184.00" y="512.50" font-size="7.0" text-anchor="middle" fill="#303030" font-weight="normal" textLength="10.4" lengthAdjust="spacingAndGlyphs" >KO</text>
<text x="211.40" y="503.70" font-size="7.0" text-anchor="middle" fill="#303030" font-weight="normal" textLength="15.3" lengthAdjust="spacingAndGlyphs" >RISP</text>
<text x="211.40" y="512.50" font-size="7.0" text-anchor="middle" fill="#303030" font-weight="normal" textLength="33.4" lengthAdjust="spacingAndGlyphs" >KO + AOX</text>
<line x1="45.80" y1="517.00" x2="131.90" y2="517.00" stroke="#9a9a9a" stroke-width="1.0" />
<line x1="149.00" y1="517.00" x2="235.90" y2="517.00" stroke="#9a9a9a" stroke-width="1.0" />
<text x="87.80" y="528.80" font-size="8.6" text-anchor="middle" fill="#333" font-weight="normal" textLength="21.7" lengthAdjust="spacingAndGlyphs" >Basal</text>
<text x="186.20" y="528.80" font-size="8.6" text-anchor="middle" fill="#333" font-weight="normal" textLength="51.3" lengthAdjust="spacingAndGlyphs" >ATP-coupled</text>
<text x="263.00" y="365.80" font-size="13.5" text-anchor="start" fill="#000" font-weight="bold" stroke="#000" stroke-width="0.45">e</text>
<line x1="300.90" y1="381.10" x2="300.90" y2="513.90" stroke="#6f6f6f" stroke-width="0.9" />
<line x1="295.10" y1="381.50" x2="300.90" y2="381.50" stroke="#6f6f6f" stroke-width="0.9" />
<text x="292.70" y="384.20" font-size="7.8" text-anchor="end" fill="#333" font-weight="normal" >50</text>
<line x1="295.10" y1="403.50" x2="300.90" y2="403.50" stroke="#6f6f6f" stroke-width="0.9" />
<text x="292.70" y="406.20" font-size="7.8" text-anchor="end" fill="#333" font-weight="normal" >40</text>
<line x1="295.10" y1="425.50" x2="300.90" y2="425.50" stroke="#6f6f6f" stroke-width="0.9" />
<text x="292.70" y="428.20" font-size="7.8" text-anchor="end" fill="#333" font-weight="normal" >30</text>
<line x1="295.10" y1="447.50" x2="300.90" y2="447.50" stroke="#6f6f6f" stroke-width="0.9" />
<text x="292.70" y="450.20" font-size="7.8" text-anchor="end" fill="#333" font-weight="normal" >20</text>
<line x1="295.10" y1="469.50" x2="300.90" y2="469.50" stroke="#6f6f6f" stroke-width="0.9" />
<text x="292.70" y="472.20" font-size="7.8" text-anchor="end" fill="#333" font-weight="normal" >10</text>
<line x1="295.10" y1="491.50" x2="300.90" y2="491.50" stroke="#6f6f6f" stroke-width="0.9" />
<text x="292.70" y="494.20" font-size="7.8" text-anchor="end" fill="#333" font-weight="normal" >0</text>
<line x1="295.10" y1="513.50" x2="300.90" y2="513.50" stroke="#6f6f6f" stroke-width="0.9" />
<text x="292.70" y="516.20" font-size="7.8" text-anchor="end" fill="#333" font-weight="normal" >−10</text>
<line x1="300.90" y1="491.50" x2="483.10" y2="491.50" stroke="#6f6f6f" stroke-width="0.9" />
<line x1="337.34" y1="491.50" x2="337.34" y2="495.90" stroke="#6f6f6f" stroke-width="0.9" />
<text x="337.34" y="507.80" font-size="7.8" text-anchor="middle" fill="#333" font-weight="normal" >20</text>
<line x1="373.78" y1="491.50" x2="373.78" y2="495.90" stroke="#6f6f6f" stroke-width="0.9" />
<text x="373.78" y="507.80" font-size="7.8" text-anchor="middle" fill="#333" font-weight="normal" >40</text>
<line x1="410.22" y1="491.50" x2="410.22" y2="495.90" stroke="#6f6f6f" stroke-width="0.9" />
<text x="410.22" y="507.80" font-size="7.8" text-anchor="middle" fill="#333" font-weight="normal" >60</text>
<line x1="446.66" y1="491.50" x2="446.66" y2="495.90" stroke="#6f6f6f" stroke-width="0.9" />
<text x="446.66" y="507.80" font-size="7.8" text-anchor="middle" fill="#333" font-weight="normal" >80</text>
<line x1="483.10" y1="491.50" x2="483.10" y2="495.90" stroke="#6f6f6f" stroke-width="0.9" />
<text x="483.10" y="507.80" font-size="7.8" text-anchor="middle" fill="#333" font-weight="normal" >100</text>
<text x="392.50" y="524.40" font-size="8.6" text-anchor="middle" fill="#222" font-weight="normal" textLength="43.2" lengthAdjust="spacingAndGlyphs" >Time (min)</text>
<text transform="translate(274.60,441.50) rotate(-90)" font-size="8.2" text-anchor="middle" fill="#222" textLength="70.2" lengthAdjust="spacingAndGlyphs">OCR (pmol min<tspan dy="-2.6" font-size="5.4">−1</tspan><tspan dy="2.6">)</tspan></text>
<line x1="331.7" y1="388" x2="331.7" y2="491.5" stroke="#333" stroke-width="0.8" stroke-dasharray="2.8 1.6"/>
<line x1="367.3" y1="417.3" x2="367.3" y2="491.5" stroke="#999" stroke-width="0.8" stroke-dasharray="2.8 1.6"/>
<line x1="405.7" y1="427.9" x2="405.7" y2="491.5" stroke="#444" stroke-width="0.8" stroke-dasharray="2.8 1.6"/>
<line x1="440.2" y1="440" x2="440.2" y2="491.5" stroke="#444" stroke-width="0.8" stroke-dasharray="2.8 1.6"/>
<text x="336.90" y="385.40" font-size="7.4" text-anchor="middle" fill="#555" font-weight="normal" textLength="38.7" lengthAdjust="spacingAndGlyphs" >Oligomycin</text>
<text x="372.10" y="414.60" font-size="7.4" text-anchor="middle" fill="#555" font-weight="normal" textLength="33.8" lengthAdjust="spacingAndGlyphs" >Antimycin</text>
<text x="408.10" y="424.50" font-size="7.4" text-anchor="middle" fill="#555" font-weight="normal" textLength="20.9" lengthAdjust="spacingAndGlyphs" >SHAM</text>
<text x="444.60" y="437.00" font-size="7.4" text-anchor="middle" fill="#555" font-weight="normal" textLength="30.7" lengthAdjust="spacingAndGlyphs" >Piericidin</text>
<line x1="303.60" y1="472.14" x2="303.60" y2="465.98" stroke="#9b9b9b" stroke-width="0.8" />
<line x1="301.20" y1="472.14" x2="306.00" y2="472.14" stroke="#9b9b9b" stroke-width="0.8" />
<line x1="301.20" y1="465.98" x2="306.00" y2="465.98" stroke="#9b9b9b" stroke-width="0.8" />
<line x1="315.30" y1="472.80" x2="315.30" y2="467.52" stroke="#9b9b9b" stroke-width="0.8" />
<line x1="312.90" y1="472.80" x2="317.70" y2="472.80" stroke="#9b9b9b" stroke-width="0.8" />
<line x1="312.90" y1="467.52" x2="317.70" y2="467.52" stroke="#9b9b9b" stroke-width="0.8" />
<line x1="327.10" y1="473.68" x2="327.10" y2="468.40" stroke="#9b9b9b" stroke-width="0.8" />
<line x1="324.70" y1="473.68" x2="329.50" y2="473.68" stroke="#9b9b9b" stroke-width="0.8" />
<line x1="324.70" y1="468.40" x2="329.50" y2="468.40" stroke="#9b9b9b" stroke-width="0.8" />
<line x1="339.30" y1="481.82" x2="339.30" y2="477.86" stroke="#9b9b9b" stroke-width="0.8" />
<line x1="336.90" y1="481.82" x2="341.70" y2="481.82" stroke="#9b9b9b" stroke-width="0.8" />
<line x1="336.90" y1="477.86" x2="341.70" y2="477.86" stroke="#9b9b9b" stroke-width="0.8" />
<line x1="351.40" y1="482.92" x2="351.40" y2="479.40" stroke="#9b9b9b" stroke-width="0.8" />
<line x1="349.00" y1="482.92" x2="353.80" y2="482.92" stroke="#9b9b9b" stroke-width="0.8" />
<line x1="349.00" y1="479.40" x2="353.80" y2="479.40" stroke="#9b9b9b" stroke-width="0.8" />
<line x1="363.20" y1="483.80" x2="363.20" y2="480.28" stroke="#9b9b9b" stroke-width="0.8" />
<line x1="360.80" y1="483.80" x2="365.60" y2="483.80" stroke="#9b9b9b" stroke-width="0.8" />
<line x1="360.80" y1="480.28" x2="365.60" y2="480.28" stroke="#9b9b9b" stroke-width="0.8" />
<line x1="375.30" y1="490.84" x2="375.30" y2="489.08" stroke="#9b9b9b" stroke-width="0.8" />
<line x1="372.90" y1="490.84" x2="377.70" y2="490.84" stroke="#9b9b9b" stroke-width="0.8" />
<line x1="372.90" y1="489.08" x2="377.70" y2="489.08" stroke="#9b9b9b" stroke-width="0.8" />
<line x1="387.10" y1="491.28" x2="387.10" y2="489.52" stroke="#9b9b9b" stroke-width="0.8" />
<line x1="384.70" y1="491.28" x2="389.50" y2="491.28" stroke="#9b9b9b" stroke-width="0.8" />
<line x1="384.70" y1="489.52" x2="389.50" y2="489.52" stroke="#9b9b9b" stroke-width="0.8" />
<line x1="398.80" y1="491.28" x2="398.80" y2="489.52" stroke="#9b9b9b" stroke-width="0.8" />
<line x1="396.40" y1="491.28" x2="401.20" y2="491.28" stroke="#9b9b9b" stroke-width="0.8" />
<line x1="396.40" y1="489.52" x2="401.20" y2="489.52" stroke="#9b9b9b" stroke-width="0.8" />
<line x1="411.00" y1="492.16" x2="411.00" y2="490.84" stroke="#9b9b9b" stroke-width="0.8" />
<line x1="408.60" y1="492.16" x2="413.40" y2="492.16" stroke="#9b9b9b" stroke-width="0.8" />
<line x1="408.60" y1="490.84" x2="413.40" y2="490.84" stroke="#9b9b9b" stroke-width="0.8" />
<line x1="422.70" y1="492.60" x2="422.70" y2="491.28" stroke="#9b9b9b" stroke-width="0.8" />
<line x1="420.30" y1="492.60" x2="425.10" y2="492.60" stroke="#9b9b9b" stroke-width="0.8" />
<line x1="420.30" y1="491.28" x2="425.10" y2="491.28" stroke="#9b9b9b" stroke-width="0.8" />
<line x1="434.50" y1="492.60" x2="434.50" y2="491.28" stroke="#9b9b9b" stroke-width="0.8" />
<line x1="432.10" y1="492.60" x2="436.90" y2="492.60" stroke="#9b9b9b" stroke-width="0.8" />
<line x1="432.10" y1="491.28" x2="436.90" y2="491.28" stroke="#9b9b9b" stroke-width="0.8" />
<line x1="446.60" y1="491.94" x2="446.60" y2="491.06" stroke="#9b9b9b" stroke-width="0.8" />
<line x1="444.20" y1="491.94" x2="449.00" y2="491.94" stroke="#9b9b9b" stroke-width="0.8" />
<line x1="444.20" y1="491.06" x2="449.00" y2="491.06" stroke="#9b9b9b" stroke-width="0.8" />
<line x1="458.40" y1="491.94" x2="458.40" y2="491.06" stroke="#9b9b9b" stroke-width="0.8" />
<line x1="456.00" y1="491.94" x2="460.80" y2="491.94" stroke="#9b9b9b" stroke-width="0.8" />
<line x1="456.00" y1="491.06" x2="460.80" y2="491.06" stroke="#9b9b9b" stroke-width="0.8" />
<line x1="470.20" y1="491.94" x2="470.20" y2="491.06" stroke="#9b9b9b" stroke-width="0.8" />
<line x1="467.80" y1="491.94" x2="472.60" y2="491.94" stroke="#9b9b9b" stroke-width="0.8" />
<line x1="467.80" y1="491.06" x2="472.60" y2="491.06" stroke="#9b9b9b" stroke-width="0.8" />
<polyline points="303.6,469.1 315.3,470.2 327.1,471.0 339.3,479.8 351.4,481.2 363.2,482.0 375.3,490.0 387.1,490.4 398.8,490.4 411.0,491.5 422.7,491.9 434.5,491.9 446.6,491.5 458.4,491.5 470.2,491.5" fill="none" stroke="#9b9b9b" stroke-width="1.3" stroke-linejoin="round"/>
<rect x="301.30" y="466.76" width="4.6" height="4.6" fill="#d6d6d6" stroke="#8f8f8f" stroke-width="1.15"/>
<rect x="313.00" y="467.86" width="4.6" height="4.6" fill="#d6d6d6" stroke="#8f8f8f" stroke-width="1.15"/>
<rect x="324.80" y="468.74" width="4.6" height="4.6" fill="#d6d6d6" stroke="#8f8f8f" stroke-width="1.15"/>
<rect x="337.00" y="477.54" width="4.6" height="4.6" fill="#d6d6d6" stroke="#8f8f8f" stroke-width="1.15"/>
<rect x="349.10" y="478.86" width="4.6" height="4.6" fill="#d6d6d6" stroke="#8f8f8f" stroke-width="1.15"/>
<rect x="360.90" y="479.74" width="4.6" height="4.6" fill="#d6d6d6" stroke="#8f8f8f" stroke-width="1.15"/>
<rect x="373.00" y="487.66" width="4.6" height="4.6" fill="#d6d6d6" stroke="#8f8f8f" stroke-width="1.15"/>
<rect x="384.80" y="488.10" width="4.6" height="4.6" fill="#d6d6d6" stroke="#8f8f8f" stroke-width="1.15"/>
<rect x="396.50" y="488.10" width="4.6" height="4.6" fill="#d6d6d6" stroke="#8f8f8f" stroke-width="1.15"/>
<rect x="408.70" y="489.20" width="4.6" height="4.6" fill="#d6d6d6" stroke="#8f8f8f" stroke-width="1.15"/>
<rect x="420.40" y="489.64" width="4.6" height="4.6" fill="#d6d6d6" stroke="#8f8f8f" stroke-width="1.15"/>
<rect x="432.20" y="489.64" width="4.6" height="4.6" fill="#d6d6d6" stroke="#8f8f8f" stroke-width="1.15"/>
<rect x="444.30" y="489.20" width="4.6" height="4.6" fill="#d6d6d6" stroke="#8f8f8f" stroke-width="1.15"/>
<rect x="456.10" y="489.20" width="4.6" height="4.6" fill="#d6d6d6" stroke="#8f8f8f" stroke-width="1.15"/>
<rect x="467.90" y="489.20" width="4.6" height="4.6" fill="#d6d6d6" stroke="#8f8f8f" stroke-width="1.15"/>
<line x1="303.60" y1="422.20" x2="303.60" y2="413.40" stroke="#9b9b9b" stroke-width="0.8" />
<line x1="301.20" y1="422.20" x2="306.00" y2="422.20" stroke="#9b9b9b" stroke-width="0.8" />
<line x1="301.20" y1="413.40" x2="306.00" y2="413.40" stroke="#9b9b9b" stroke-width="0.8" />
<line x1="315.30" y1="421.98" x2="315.30" y2="414.94" stroke="#9b9b9b" stroke-width="0.8" />
<line x1="312.90" y1="421.98" x2="317.70" y2="421.98" stroke="#9b9b9b" stroke-width="0.8" />
<line x1="312.90" y1="414.94" x2="317.70" y2="414.94" stroke="#9b9b9b" stroke-width="0.8" />
<line x1="327.10" y1="421.76" x2="327.10" y2="412.96" stroke="#9b9b9b" stroke-width="0.8" />
<line x1="324.70" y1="421.76" x2="329.50" y2="421.76" stroke="#9b9b9b" stroke-width="0.8" />
<line x1="324.70" y1="412.96" x2="329.50" y2="412.96" stroke="#9b9b9b" stroke-width="0.8" />
<line x1="339.30" y1="449.04" x2="339.30" y2="435.84" stroke="#9b9b9b" stroke-width="0.8" />
<line x1="336.90" y1="449.04" x2="341.70" y2="449.04" stroke="#9b9b9b" stroke-width="0.8" />
<line x1="336.90" y1="435.84" x2="341.70" y2="435.84" stroke="#9b9b9b" stroke-width="0.8" />
<line x1="351.40" y1="453.66" x2="351.40" y2="441.34" stroke="#9b9b9b" stroke-width="0.8" />
<line x1="349.00" y1="453.66" x2="353.80" y2="453.66" stroke="#9b9b9b" stroke-width="0.8" />
<line x1="349.00" y1="441.34" x2="353.80" y2="441.34" stroke="#9b9b9b" stroke-width="0.8" />
<line x1="363.20" y1="456.08" x2="363.20" y2="444.64" stroke="#9b9b9b" stroke-width="0.8" />
<line x1="360.80" y1="456.08" x2="365.60" y2="456.08" stroke="#9b9b9b" stroke-width="0.8" />
<line x1="360.80" y1="444.64" x2="365.60" y2="444.64" stroke="#9b9b9b" stroke-width="0.8" />
<line x1="375.30" y1="456.08" x2="375.30" y2="446.40" stroke="#9b9b9b" stroke-width="0.8" />
<line x1="372.90" y1="456.08" x2="377.70" y2="456.08" stroke="#9b9b9b" stroke-width="0.8" />
<line x1="372.90" y1="446.40" x2="377.70" y2="446.40" stroke="#9b9b9b" stroke-width="0.8" />
<line x1="387.10" y1="455.20" x2="387.10" y2="447.28" stroke="#9b9b9b" stroke-width="0.8" />
<line x1="384.70" y1="455.20" x2="389.50" y2="455.20" stroke="#9b9b9b" stroke-width="0.8" />
<line x1="384.70" y1="447.28" x2="389.50" y2="447.28" stroke="#9b9b9b" stroke-width="0.8" />
<line x1="398.80" y1="454.98" x2="398.80" y2="447.94" stroke="#9b9b9b" stroke-width="0.8" />
<line x1="396.40" y1="454.98" x2="401.20" y2="454.98" stroke="#9b9b9b" stroke-width="0.8" />
<line x1="396.40" y1="447.94" x2="401.20" y2="447.94" stroke="#9b9b9b" stroke-width="0.8" />
<line x1="411.00" y1="486.22" x2="411.00" y2="480.94" stroke="#9b9b9b" stroke-width="0.8" />
<line x1="408.60" y1="486.22" x2="413.40" y2="486.22" stroke="#9b9b9b" stroke-width="0.8" />
<line x1="408.60" y1="480.94" x2="413.40" y2="480.94" stroke="#9b9b9b" stroke-width="0.8" />
<line x1="422.70" y1="487.10" x2="422.70" y2="481.82" stroke="#9b9b9b" stroke-width="0.8" />
<line x1="420.30" y1="487.10" x2="425.10" y2="487.10" stroke="#9b9b9b" stroke-width="0.8" />
<line x1="420.30" y1="481.82" x2="425.10" y2="481.82" stroke="#9b9b9b" stroke-width="0.8" />
<line x1="434.50" y1="487.98" x2="434.50" y2="483.58" stroke="#9b9b9b" stroke-width="0.8" />
<line x1="432.10" y1="487.98" x2="436.90" y2="487.98" stroke="#9b9b9b" stroke-width="0.8" />
<line x1="432.10" y1="483.58" x2="436.90" y2="483.58" stroke="#9b9b9b" stroke-width="0.8" />
<line x1="446.60" y1="492.16" x2="446.60" y2="490.84" stroke="#9b9b9b" stroke-width="0.8" />
<line x1="444.20" y1="492.16" x2="449.00" y2="492.16" stroke="#9b9b9b" stroke-width="0.8" />
<line x1="444.20" y1="490.84" x2="449.00" y2="490.84" stroke="#9b9b9b" stroke-width="0.8" />
<line x1="458.40" y1="492.16" x2="458.40" y2="490.84" stroke="#9b9b9b" stroke-width="0.8" />
<line x1="456.00" y1="492.16" x2="460.80" y2="492.16" stroke="#9b9b9b" stroke-width="0.8" />
<line x1="456.00" y1="490.84" x2="460.80" y2="490.84" stroke="#9b9b9b" stroke-width="0.8" />
<line x1="470.20" y1="492.16" x2="470.20" y2="490.84" stroke="#9b9b9b" stroke-width="0.8" />
<line x1="467.80" y1="492.16" x2="472.60" y2="492.16" stroke="#9b9b9b" stroke-width="0.8" />
<line x1="467.80" y1="490.84" x2="472.60" y2="490.84" stroke="#9b9b9b" stroke-width="0.8" />
<polyline points="303.6,417.8 315.3,418.5 327.1,417.4 339.3,442.4 351.4,447.5 363.2,450.4 375.3,451.2 387.1,451.2 398.8,451.5 411.0,483.6 422.7,484.5 434.5,485.8 446.6,491.5 458.4,491.5 470.2,491.5" fill="none" stroke="#707070" stroke-width="1.6" stroke-linejoin="round"/>
<path d="M303.60,415.03 L306.40,420.07 L300.80,420.07Z" fill="#707070"/>
<path d="M315.30,415.69 L318.10,420.73 L312.50,420.73Z" fill="#707070"/>
<path d="M327.10,414.59 L329.90,419.63 L324.30,419.63Z" fill="#707070"/>
<path d="M339.30,439.67 L342.10,444.71 L336.50,444.71Z" fill="#707070"/>
<path d="M351.40,444.73 L354.20,449.77 L348.60,449.77Z" fill="#707070"/>
<path d="M363.20,447.59 L366.00,452.63 L360.40,452.63Z" fill="#707070"/>
<path d="M375.30,448.47 L378.10,453.51 L372.50,453.51Z" fill="#707070"/>
<path d="M387.10,448.47 L389.90,453.51 L384.30,453.51Z" fill="#707070"/>
<path d="M398.80,448.69 L401.60,453.73 L396.00,453.73Z" fill="#707070"/>
<path d="M411.00,480.81 L413.80,485.85 L408.20,485.85Z" fill="#707070"/>
<path d="M422.70,481.69 L425.50,486.73 L419.90,486.73Z" fill="#707070"/>
<path d="M434.50,483.01 L437.30,488.05 L431.70,488.05Z" fill="#707070"/>
<path d="M446.60,488.73 L449.40,493.77 L443.80,493.77Z" fill="#707070"/>
<path d="M458.40,488.73 L461.20,493.77 L455.60,493.77Z" fill="#707070"/>
<path d="M470.20,488.73 L473.00,493.77 L467.40,493.77Z" fill="#707070"/>
<line x1="303.60" y1="412.96" x2="303.60" y2="398.44" stroke="#777" stroke-width="0.8" />
<line x1="301.20" y1="412.96" x2="306.00" y2="412.96" stroke="#777" stroke-width="0.8" />
<line x1="301.20" y1="398.44" x2="306.00" y2="398.44" stroke="#777" stroke-width="0.8" />
<line x1="315.30" y1="412.30" x2="315.30" y2="399.10" stroke="#777" stroke-width="0.8" />
<line x1="312.90" y1="412.30" x2="317.70" y2="412.30" stroke="#777" stroke-width="0.8" />
<line x1="312.90" y1="399.10" x2="317.70" y2="399.10" stroke="#777" stroke-width="0.8" />
<line x1="327.10" y1="412.30" x2="327.10" y2="398.22" stroke="#777" stroke-width="0.8" />
<line x1="324.70" y1="412.30" x2="329.50" y2="412.30" stroke="#777" stroke-width="0.8" />
<line x1="324.70" y1="398.22" x2="329.50" y2="398.22" stroke="#777" stroke-width="0.8" />
<line x1="339.30" y1="467.30" x2="339.30" y2="457.62" stroke="#777" stroke-width="0.8" />
<line x1="336.90" y1="467.30" x2="341.70" y2="467.30" stroke="#777" stroke-width="0.8" />
<line x1="336.90" y1="457.62" x2="341.70" y2="457.62" stroke="#777" stroke-width="0.8" />
<line x1="351.40" y1="471.26" x2="351.40" y2="462.46" stroke="#777" stroke-width="0.8" />
<line x1="349.00" y1="471.26" x2="353.80" y2="471.26" stroke="#777" stroke-width="0.8" />
<line x1="349.00" y1="462.46" x2="353.80" y2="462.46" stroke="#777" stroke-width="0.8" />
<line x1="363.20" y1="472.36" x2="363.20" y2="463.56" stroke="#777" stroke-width="0.8" />
<line x1="360.80" y1="472.36" x2="365.60" y2="472.36" stroke="#777" stroke-width="0.8" />
<line x1="360.80" y1="463.56" x2="365.60" y2="463.56" stroke="#777" stroke-width="0.8" />
<line x1="375.30" y1="482.26" x2="375.30" y2="470.82" stroke="#777" stroke-width="0.8" />
<line x1="372.90" y1="482.26" x2="377.70" y2="482.26" stroke="#777" stroke-width="0.8" />
<line x1="372.90" y1="470.82" x2="377.70" y2="470.82" stroke="#777" stroke-width="0.8" />
<line x1="387.10" y1="482.92" x2="387.10" y2="472.36" stroke="#777" stroke-width="0.8" />
<line x1="384.70" y1="482.92" x2="389.50" y2="482.92" stroke="#777" stroke-width="0.8" />
<line x1="384.70" y1="472.36" x2="389.50" y2="472.36" stroke="#777" stroke-width="0.8" />
<line x1="398.80" y1="484.02" x2="398.80" y2="473.46" stroke="#777" stroke-width="0.8" />
<line x1="396.40" y1="484.02" x2="401.20" y2="484.02" stroke="#777" stroke-width="0.8" />
<line x1="396.40" y1="473.46" x2="401.20" y2="473.46" stroke="#777" stroke-width="0.8" />
<line x1="411.00" y1="486.88" x2="411.00" y2="479.84" stroke="#777" stroke-width="0.8" />
<line x1="408.60" y1="486.88" x2="413.40" y2="486.88" stroke="#777" stroke-width="0.8" />
<line x1="408.60" y1="479.84" x2="413.40" y2="479.84" stroke="#777" stroke-width="0.8" />
<line x1="422.70" y1="487.76" x2="422.70" y2="480.72" stroke="#777" stroke-width="0.8" />
<line x1="420.30" y1="487.76" x2="425.10" y2="487.76" stroke="#777" stroke-width="0.8" />
<line x1="420.30" y1="480.72" x2="425.10" y2="480.72" stroke="#777" stroke-width="0.8" />
<line x1="434.50" y1="488.64" x2="434.50" y2="482.48" stroke="#777" stroke-width="0.8" />
<line x1="432.10" y1="488.64" x2="436.90" y2="488.64" stroke="#777" stroke-width="0.8" />
<line x1="432.10" y1="482.48" x2="436.90" y2="482.48" stroke="#777" stroke-width="0.8" />
<line x1="446.60" y1="492.16" x2="446.60" y2="490.84" stroke="#777" stroke-width="0.8" />
<line x1="444.20" y1="492.16" x2="449.00" y2="492.16" stroke="#777" stroke-width="0.8" />
<line x1="444.20" y1="490.84" x2="449.00" y2="490.84" stroke="#777" stroke-width="0.8" />
<line x1="458.40" y1="492.16" x2="458.40" y2="490.84" stroke="#777" stroke-width="0.8" />
<line x1="456.00" y1="492.16" x2="460.80" y2="492.16" stroke="#777" stroke-width="0.8" />
<line x1="456.00" y1="490.84" x2="460.80" y2="490.84" stroke="#777" stroke-width="0.8" />
<line x1="470.20" y1="492.16" x2="470.20" y2="490.84" stroke="#777" stroke-width="0.8" />
<line x1="467.80" y1="492.16" x2="472.60" y2="492.16" stroke="#777" stroke-width="0.8" />
<line x1="467.80" y1="490.84" x2="472.60" y2="490.84" stroke="#777" stroke-width="0.8" />
<polyline points="303.6,405.7 315.3,405.7 327.1,405.3 339.3,462.5 351.4,466.9 363.2,468.0 375.3,476.5 387.1,477.6 398.8,478.7 411.0,483.4 422.7,484.2 434.5,485.6 446.6,491.5 458.4,491.5 470.2,491.5" fill="none" stroke="#333" stroke-width="0.7" stroke-linejoin="round"/>
<circle cx="303.60" cy="405.70" r="2.5" fill="#000"/>
<circle cx="315.30" cy="405.70" r="2.5" fill="#000"/>
<circle cx="327.10" cy="405.26" r="2.5" fill="#000"/>
<circle cx="339.30" cy="462.46" r="2.5" fill="#000"/>
<circle cx="351.40" cy="466.86" r="2.5" fill="#000"/>
<circle cx="363.20" cy="467.96" r="2.5" fill="#000"/>
<circle cx="375.30" cy="476.54" r="2.5" fill="#000"/>
<circle cx="387.10" cy="477.64" r="2.5" fill="#000"/>
<circle cx="398.80" cy="478.74" r="2.5" fill="#000"/>
<circle cx="411.00" cy="483.36" r="2.5" fill="#000"/>
<circle cx="422.70" cy="484.24" r="2.5" fill="#000"/>
<circle cx="434.50" cy="485.56" r="2.5" fill="#000"/>
<circle cx="446.60" cy="491.50" r="2.5" fill="#000"/>
<circle cx="458.40" cy="491.50" r="2.5" fill="#000"/>
<circle cx="470.20" cy="491.50" r="2.5" fill="#000"/>
<line x1="437.20" y1="384.00" x2="452.30" y2="384.00" stroke="#333" stroke-width="0.7" />
<circle cx="444.80" cy="384.00" r="2.5" fill="#000"/>
<text x="456.10" y="386.50" font-size="7.0" text-anchor="start" fill="#222" font-weight="normal" textLength="26.6" lengthAdjust="spacingAndGlyphs" >RISP WT</text>
<line x1="437.20" y1="396.50" x2="452.30" y2="396.50" stroke="#9b9b9b" stroke-width="1.3" />
<rect x="442.50" y="394.20" width="4.6" height="4.6" fill="#d6d6d6" stroke="#8f8f8f" stroke-width="1.15"/>
<text x="456.10" y="399.00" font-size="7.0" text-anchor="start" fill="#222" font-weight="normal" textLength="27" lengthAdjust="spacingAndGlyphs" >RISP KO</text>
<line x1="437.20" y1="407.80" x2="452.30" y2="407.80" stroke="#707070" stroke-width="1.6" />
<path d="M444.80,405.03 L447.60,410.07 L442.00,410.07Z" fill="#707070"/>
<text x="456.10" y="410.30" font-size="7.0" text-anchor="start" fill="#222" font-weight="normal" textLength="50.1" lengthAdjust="spacingAndGlyphs" >RISP KO + AOX</text>
<text x="534.20" y="367.60" font-size="13.5" text-anchor="start" fill="#000" font-weight="bold" stroke="#000" stroke-width="0.45">f</text>
<line x1="585.20" y1="377.90" x2="585.20" y2="517.90" stroke="#6f6f6f" stroke-width="0.9" />
<line x1="584.80" y1="517.50" x2="678.40" y2="517.50" stroke="#6f6f6f" stroke-width="0.9" />
<line x1="579.40" y1="378.30" x2="585.20" y2="378.30" stroke="#6f6f6f" stroke-width="0.9" />
<text x="576.50" y="381.00" font-size="7.8" text-anchor="end" fill="#333" font-weight="normal" >2.0</text>
<line x1="579.40" y1="413.10" x2="585.20" y2="413.10" stroke="#6f6f6f" stroke-width="0.9" />
<text x="576.50" y="415.80" font-size="7.8" text-anchor="end" fill="#333" font-weight="normal" >1.5</text>
<line x1="579.40" y1="447.90" x2="585.20" y2="447.90" stroke="#6f6f6f" stroke-width="0.9" />
<text x="576.50" y="450.60" font-size="7.8" text-anchor="end" fill="#333" font-weight="normal" >1.0</text>
<line x1="579.40" y1="482.70" x2="585.20" y2="482.70" stroke="#6f6f6f" stroke-width="0.9" />
<text x="576.50" y="485.40" font-size="7.8" text-anchor="end" fill="#333" font-weight="normal" >0.5</text>
<line x1="579.40" y1="517.50" x2="585.20" y2="517.50" stroke="#6f6f6f" stroke-width="0.9" />
<text x="576.50" y="520.20" font-size="7.8" text-anchor="end" fill="#333" font-weight="normal" >0</text>
<rect x="595.00" y="414.40" width="17.20" height="103.10" fill="#676767" stroke="#222" stroke-width="0.9"/>
<line x1="603.60" y1="407.50" x2="603.60" y2="419.40" stroke="#333" stroke-width="0.9" />
<line x1="599.10" y1="407.50" x2="608.10" y2="407.50" stroke="#333" stroke-width="0.9" />
<line x1="599.10" y1="419.40" x2="608.10" y2="419.40" stroke="#333" stroke-width="0.9" />
<rect x="622.80" y="494.00" width="17.70" height="23.50" fill="#d9d9d9" stroke="#222" stroke-width="0.9"/>
<line x1="631.60" y1="486.10" x2="631.60" y2="500.10" stroke="#333" stroke-width="0.9" />
<line x1="627.10" y1="486.10" x2="636.10" y2="486.10" stroke="#333" stroke-width="0.9" />
<line x1="627.10" y1="500.10" x2="636.10" y2="500.10" stroke="#333" stroke-width="0.9" />
<rect x="650.60" y="432.10" width="17.20" height="85.40" fill="#9a9a9a" stroke="#222" stroke-width="0.9"/>
<line x1="659.20" y1="415.40" x2="659.20" y2="447.70" stroke="#333" stroke-width="0.9" />
<line x1="654.45" y1="415.40" x2="663.95" y2="415.40" stroke="#333" stroke-width="0.9" />
<line x1="654.45" y1="447.70" x2="663.95" y2="447.70" stroke="#333" stroke-width="0.9" />
<line x1="603.60" y1="517.50" x2="603.60" y2="521.10" stroke="#666" stroke-width="0.9" />
<line x1="631.60" y1="517.50" x2="631.60" y2="521.10" stroke="#b5b5b5" stroke-width="0.9" />
<line x1="659.20" y1="517.50" x2="659.20" y2="521.10" stroke="#666" stroke-width="0.9" />
<circle cx="599.80" cy="398.50" r="2.05" fill="#000"/>
<circle cx="607.40" cy="401.10" r="2.05" fill="#000"/>
<circle cx="604.30" cy="414.60" r="2.05" fill="#000"/>
<circle cx="604.30" cy="419.90" r="2.05" fill="#000"/>
<circle cx="603.70" cy="432.10" r="2.05" fill="#000"/>
<rect x="629.55" y="477.55" width="3.9" height="3.9" fill="#000"/>
<rect x="629.55" y="484.95" width="3.9" height="3.9" fill="#000"/>
<rect x="629.55" y="494.25" width="3.9" height="3.9" fill="#000"/>
<rect x="629.55" y="509.85" width="3.9" height="3.9" fill="#000"/>
<path d="M659.30,402.67 L661.45,406.54 L657.15,406.54Z" fill="#000"/>
<path d="M659.30,427.37 L661.45,431.24 L657.15,431.24Z" fill="#000"/>
<path d="M659.30,459.07 L661.45,462.94 L657.15,462.94Z" fill="#000"/>
<line x1="603.20" y1="376.30" x2="632.00" y2="376.30" stroke="#444" stroke-width="0.8" />
<path d="M618.00,372.30L618.00,370.15M618.00,372.30L620.04,371.64M618.00,372.30L619.26,374.04M618.00,372.30L616.74,374.04M618.00,372.30L615.96,371.64" stroke="#222" stroke-width="0.85" fill="none"/>
<line x1="631.30" y1="396.90" x2="659.80" y2="396.90" stroke="#444" stroke-width="0.8" />
<path d="M646.00,392.40L646.00,390.25M646.00,392.40L648.04,391.74M646.00,392.40L647.26,394.14M646.00,392.40L644.74,394.14M646.00,392.40L643.96,391.74" stroke="#222" stroke-width="0.85" fill="none"/>
<text transform="translate(559.60,447.90) rotate(-90)" font-size="8.2" text-anchor="middle" fill="#222" textLength="57" lengthAdjust="spacingAndGlyphs">Division index</text>
<text x="603.70" y="531.10" font-size="7.0" text-anchor="middle" fill="#303030" font-weight="normal" textLength="15.3" lengthAdjust="spacingAndGlyphs" >RISP</text>
<text x="603.70" y="539.40" font-size="7.0" text-anchor="middle" fill="#303030" font-weight="normal" textLength="10.0" lengthAdjust="spacingAndGlyphs" >WT</text>
<text x="631.50" y="531.10" font-size="7.0" text-anchor="middle" fill="#303030" font-weight="normal" textLength="15.3" lengthAdjust="spacingAndGlyphs" >RISP</text>
<text x="631.50" y="539.40" font-size="7.0" text-anchor="middle" fill="#303030" font-weight="normal" textLength="10.4" lengthAdjust="spacingAndGlyphs" >KO</text>
<text x="659.30" y="531.10" font-size="7.0" text-anchor="middle" fill="#303030" font-weight="normal" textLength="15.3" lengthAdjust="spacingAndGlyphs" >RISP</text>
<text x="659.30" y="539.40" font-size="7.0" text-anchor="middle" fill="#303030" font-weight="normal" textLength="33.4" lengthAdjust="spacingAndGlyphs" >KO + AOX</text>
<g transform="translate(0,0.4)">
<text x="-0.50" y="559.50" font-size="13.5" text-anchor="start" fill="#000" font-weight="bold" stroke="#000" stroke-width="0.45">g</text>
<line x1="52.10" y1="571.20" x2="52.10" y2="729.60" stroke="#6f6f6f" stroke-width="0.9" />
<line x1="51.70" y1="729.20" x2="157.70" y2="729.20" stroke="#6f6f6f" stroke-width="0.9" />
<line x1="46.30" y1="571.60" x2="52.10" y2="571.60" stroke="#6f6f6f" stroke-width="0.9" />
<text x="42.70" y="574.30" font-size="7.8" text-anchor="end" fill="#333" font-weight="normal" >8</text>
<line x1="46.30" y1="611.00" x2="52.10" y2="611.00" stroke="#6f6f6f" stroke-width="0.9" />
<text x="42.70" y="613.70" font-size="7.8" text-anchor="end" fill="#333" font-weight="normal" >6</text>
<line x1="46.30" y1="650.40" x2="52.10" y2="650.40" stroke="#6f6f6f" stroke-width="0.9" />
<text x="42.70" y="653.10" font-size="7.8" text-anchor="end" fill="#333" font-weight="normal" >4</text>
<line x1="46.30" y1="689.80" x2="52.10" y2="689.80" stroke="#6f6f6f" stroke-width="0.9" />
<text x="42.70" y="692.50" font-size="7.8" text-anchor="end" fill="#333" font-weight="normal" >2</text>
<line x1="46.30" y1="729.20" x2="52.10" y2="729.20" stroke="#6f6f6f" stroke-width="0.9" />
<text x="42.70" y="731.90" font-size="7.8" text-anchor="end" fill="#333" font-weight="normal" >0</text>
<rect x="63.70" y="622.50" width="19.40" height="106.70" fill="#676767" stroke="#222" stroke-width="0.9"/>
<line x1="73.40" y1="612.60" x2="73.40" y2="630.50" stroke="#333" stroke-width="0.9" />
<line x1="67.90" y1="612.60" x2="78.90" y2="612.60" stroke="#333" stroke-width="0.9" />
<line x1="67.90" y1="630.50" x2="78.90" y2="630.50" stroke="#333" stroke-width="0.9" />
<rect x="95.30" y="668.60" width="19.40" height="60.60" fill="#d9d9d9" stroke="#222" stroke-width="0.9"/>
<line x1="105.00" y1="654.40" x2="105.00" y2="680.90" stroke="#777" stroke-width="0.9" />
<line x1="99.50" y1="654.40" x2="110.50" y2="654.40" stroke="#777" stroke-width="0.9" />
<line x1="99.50" y1="680.90" x2="110.50" y2="680.90" stroke="#777" stroke-width="0.9" />
<rect x="127.20" y="626.50" width="19.40" height="102.70" fill="#9a9a9a" stroke="#222" stroke-width="0.9"/>
<line x1="136.90" y1="617.10" x2="136.90" y2="633.10" stroke="#333" stroke-width="0.9" />
<line x1="131.40" y1="617.10" x2="142.40" y2="617.10" stroke="#333" stroke-width="0.9" />
<line x1="131.40" y1="633.10" x2="142.40" y2="633.10" stroke="#333" stroke-width="0.9" />
<line x1="73.30" y1="729.20" x2="73.30" y2="734.50" stroke="#666" stroke-width="0.9" />
<line x1="105.00" y1="729.20" x2="105.00" y2="734.50" stroke="#b5b5b5" stroke-width="0.9" />
<line x1="136.80" y1="729.20" x2="136.80" y2="734.50" stroke="#666" stroke-width="0.9" />
<circle cx="73.40" cy="596.60" r="2.0" fill="#000"/>
<circle cx="69.20" cy="624.80" r="2.0" fill="#000"/>
<circle cx="77.40" cy="625.90" r="2.0" fill="#000"/>
<circle cx="73.40" cy="636.50" r="2.0" fill="#000"/>
<rect x="103.10" y="648.80" width="3.8" height="3.8" fill="#000"/>
<rect x="103.10" y="656.20" width="3.8" height="3.8" fill="#000"/>
<rect x="103.10" y="692.10" width="3.8" height="3.8" fill="#000"/>
<path d="M136.90,600.97 L139.15,605.02 L134.65,605.02Z" fill="#000"/>
<path d="M132.90,617.77 L135.15,621.82 L130.65,621.82Z" fill="#000"/>
<path d="M140.90,616.57 L143.15,620.62 L138.65,620.62Z" fill="#000"/>
<path d="M136.90,635.07 L139.15,639.12 L134.65,639.12Z" fill="#000"/>
<path d="M136.90,645.87 L139.15,649.92 L134.65,649.92Z" fill="#000"/>
<line x1="73.40" y1="579.80" x2="101.90" y2="579.80" stroke="#9c9c9c" stroke-width="1.3" />
<path d="M88.20,574.10L88.20,571.95M88.20,574.10L90.24,573.44M88.20,574.10L89.46,575.84M88.20,574.10L86.94,575.84M88.20,574.10L86.16,573.44" stroke="#222" stroke-width="0.85" fill="none"/>
<line x1="107.60" y1="579.80" x2="137.20" y2="579.80" stroke="#9c9c9c" stroke-width="1.3" />
<path d="M123.20,574.10L123.20,571.95M123.20,574.10L125.24,573.44M123.20,574.10L124.46,575.84M123.20,574.10L121.94,575.84M123.20,574.10L121.16,573.44" stroke="#222" stroke-width="0.85" fill="none"/>
<text transform="translate(31.00,650.30) rotate(-90)" font-size="8.2" text-anchor="middle" fill="#222" textLength="49.8" lengthAdjust="spacingAndGlyphs">NAD<tspan dy="-2.6" font-size="5.2">+</tspan><tspan dy="2.6">/NADH</tspan></text>
<text x="73.40" y="744.90" font-size="7.0" text-anchor="middle" fill="#303030" font-weight="normal" textLength="15.3" lengthAdjust="spacingAndGlyphs" >RISP</text>
<text x="73.40" y="754.00" font-size="7.0" text-anchor="middle" fill="#303030" font-weight="normal" textLength="10.0" lengthAdjust="spacingAndGlyphs" >WT</text>
<text x="105.00" y="744.90" font-size="7.0" text-anchor="middle" fill="#303030" font-weight="normal" textLength="15.3" lengthAdjust="spacingAndGlyphs" >RISP</text>
<text x="105.00" y="754.00" font-size="7.0" text-anchor="middle" fill="#303030" font-weight="normal" textLength="10.4" lengthAdjust="spacingAndGlyphs" >KO</text>
<text x="136.90" y="744.90" font-size="7.0" text-anchor="middle" fill="#303030" font-weight="normal" textLength="15.3" lengthAdjust="spacingAndGlyphs" >RISP</text>
<text x="136.90" y="754.00" font-size="7.0" text-anchor="middle" fill="#303030" font-weight="normal" textLength="33.4" lengthAdjust="spacingAndGlyphs" >KO + AOX</text>
</g>
<text x="183.50" y="559.40" font-size="13.5" text-anchor="start" fill="#000" font-weight="bold" stroke="#000" stroke-width="0.45">h</text>
<line x1="238.30" y1="570.00" x2="238.30" y2="729.40" stroke="#6f6f6f" stroke-width="0.9" />
<line x1="237.90" y1="729.00" x2="343.60" y2="729.00" stroke="#6f6f6f" stroke-width="0.9" />
<line x1="232.50" y1="570.40" x2="238.30" y2="570.40" stroke="#6f6f6f" stroke-width="0.9" />
<line x1="232.50" y1="610.05" x2="238.30" y2="610.05" stroke="#6f6f6f" stroke-width="0.9" />
<line x1="232.50" y1="649.70" x2="238.30" y2="649.70" stroke="#6f6f6f" stroke-width="0.9" />
<line x1="232.50" y1="689.35" x2="238.30" y2="689.35" stroke="#6f6f6f" stroke-width="0.9" />
<line x1="232.50" y1="729.00" x2="238.30" y2="729.00" stroke="#6f6f6f" stroke-width="0.9" />
<text x="230.40" y="731.70" font-size="7.8" text-anchor="end" fill="#333" font-weight="normal" >0</text>
<text x="228.80" y="574.60" font-size="7.4" text-anchor="end" fill="#333" font-weight="normal" textLength="32" lengthAdjust="spacingAndGlyphs" >2.0 × 10<tspan dy="-2.6" font-size="4.8">−5</tspan></text>
<text x="228.80" y="614.25" font-size="7.4" text-anchor="end" fill="#333" font-weight="normal" textLength="30.5" lengthAdjust="spacingAndGlyphs" >1.5 × 10<tspan dy="-2.6" font-size="4.8">−5</tspan></text>
<text x="228.80" y="653.90" font-size="7.4" text-anchor="end" fill="#333" font-weight="normal" textLength="32" lengthAdjust="spacingAndGlyphs" >1.0 × 10<tspan dy="-2.6" font-size="4.8">−5</tspan></text>
<text x="228.80" y="693.55" font-size="7.4" text-anchor="end" fill="#333" font-weight="normal" textLength="32" lengthAdjust="spacingAndGlyphs" >5.0 × 10<tspan dy="-2.6" font-size="4.8">−6</tspan></text>
<rect x="281.00" y="684.30" width="19.60" height="44.70" fill="#d9d9d9" stroke="#222" stroke-width="0.9"/>
<line x1="290.70" y1="663.20" x2="290.70" y2="703.10" stroke="#444" stroke-width="0.9" />
<line x1="284.95" y1="663.20" x2="296.45" y2="663.20" stroke="#444" stroke-width="0.9" />
<line x1="284.95" y1="703.10" x2="296.45" y2="703.10" stroke="#444" stroke-width="0.9" />
<line x1="259.10" y1="729.00" x2="259.10" y2="734.30" stroke="#666" stroke-width="0.9" />
<line x1="290.80" y1="729.00" x2="290.80" y2="734.30" stroke="#b5b5b5" stroke-width="0.9" />
<line x1="321.60" y1="729.00" x2="321.60" y2="734.30" stroke="#666" stroke-width="0.9" />
<circle cx="251.10" cy="729.00" r="1.9" fill="#000"/>
<circle cx="254.50" cy="729.00" r="1.9" fill="#000"/>
<circle cx="257.90" cy="729.00" r="1.9" fill="#000"/>
<circle cx="261.10" cy="729.00" r="1.9" fill="#000"/>
<circle cx="264.50" cy="729.00" r="1.9" fill="#000"/>
<circle cx="267.60" cy="729.00" r="1.9" fill="#000"/>
<rect x="288.80" y="583.60" width="3.8" height="3.8" fill="#000"/>
<rect x="288.80" y="622.10" width="3.8" height="3.8" fill="#000"/>
<rect x="288.80" y="651.90" width="3.8" height="3.8" fill="#000"/>
<rect x="288.80" y="684.90" width="3.8" height="3.8" fill="#000"/>
<rect x="280.50" y="727.10" width="3.8" height="3.8" fill="#000"/>
<rect x="286.20" y="727.10" width="3.8" height="3.8" fill="#000"/>
<rect x="291.90" y="727.10" width="3.8" height="3.8" fill="#000"/>
<rect x="297.60" y="727.10" width="3.8" height="3.8" fill="#000"/>
<path d="M314.60,726.72 L316.50,730.14 L312.70,730.14Z" fill="#000"/>
<path d="M318.50,726.72 L320.40,730.14 L316.60,730.14Z" fill="#000"/>
<path d="M322.80,726.72 L324.70,730.14 L320.90,730.14Z" fill="#000"/>
<path d="M326.80,726.72 L328.70,730.14 L324.90,730.14Z" fill="#000"/>
<path d="M331.10,726.72 L333.00,730.14 L329.20,730.14Z" fill="#000"/>
<line x1="259.60" y1="569.00" x2="287.50" y2="569.00" stroke="#5e5e5e" stroke-width="0.9" />
<path d="M273.90,562.80L273.90,560.65M273.90,562.80L275.94,562.14M273.90,562.80L275.16,564.54M273.90,562.80L272.64,564.54M273.90,562.80L271.86,562.14" stroke="#222" stroke-width="0.85" fill="none"/>
<line x1="293.20" y1="569.00" x2="322.80" y2="569.00" stroke="#5e5e5e" stroke-width="0.9" />
<path d="M308.60,562.80L308.60,560.65M308.60,562.80L310.64,562.14M308.60,562.80L309.86,564.54M308.60,562.80L307.34,564.54M308.60,562.80L306.56,562.14" stroke="#222" stroke-width="0.85" fill="none"/>
<text transform="translate(190.00,650.30) rotate(-90)" font-size="8.2" text-anchor="middle" fill="#222" textLength="84" lengthAdjust="spacingAndGlyphs">Dihydroorotate (a.u.)</text>
<text x="259.10" y="744.90" font-size="7.0" text-anchor="middle" fill="#303030" font-weight="normal" textLength="15.3" lengthAdjust="spacingAndGlyphs" >RISP</text>
<text x="259.10" y="754.00" font-size="7.0" text-anchor="middle" fill="#303030" font-weight="normal" textLength="10.0" lengthAdjust="spacingAndGlyphs" >WT</text>
<text x="290.70" y="744.90" font-size="7.0" text-anchor="middle" fill="#303030" font-weight="normal" textLength="15.3" lengthAdjust="spacingAndGlyphs" >RISP</text>
<text x="290.70" y="754.00" font-size="7.0" text-anchor="middle" fill="#303030" font-weight="normal" textLength="10.4" lengthAdjust="spacingAndGlyphs" >KO</text>
<text x="322.20" y="744.90" font-size="7.0" text-anchor="middle" fill="#303030" font-weight="normal" textLength="15.3" lengthAdjust="spacingAndGlyphs" >RISP</text>
<text x="322.20" y="754.00" font-size="7.0" text-anchor="middle" fill="#303030" font-weight="normal" textLength="33.4" lengthAdjust="spacingAndGlyphs" >KO + AOX</text>
<g transform="translate(0,0.7)">
<text x="360.50" y="559.40" font-size="13.5" text-anchor="start" fill="#000" font-weight="bold" stroke="#000" stroke-width="0.45">i</text>
<line x1="400.60" y1="568.60" x2="400.60" y2="730.20" stroke="#6f6f6f" stroke-width="0.9" />
<line x1="400.20" y1="729.80" x2="507.90" y2="729.80" stroke="#6f6f6f" stroke-width="0.9" />
<line x1="394.80" y1="569.00" x2="400.60" y2="569.00" stroke="#6f6f6f" stroke-width="0.9" />
<text x="391.20" y="571.70" font-size="7.8" text-anchor="end" fill="#333" font-weight="normal" >20</text>
<line x1="394.80" y1="609.20" x2="400.60" y2="609.20" stroke="#6f6f6f" stroke-width="0.9" />
<text x="391.20" y="611.90" font-size="7.8" text-anchor="end" fill="#333" font-weight="normal" >15</text>
<line x1="394.80" y1="649.40" x2="400.60" y2="649.40" stroke="#6f6f6f" stroke-width="0.9" />
<text x="391.20" y="652.10" font-size="7.8" text-anchor="end" fill="#333" font-weight="normal" >10</text>
<line x1="394.80" y1="689.60" x2="400.60" y2="689.60" stroke="#6f6f6f" stroke-width="0.9" />
<text x="391.20" y="692.30" font-size="7.8" text-anchor="end" fill="#333" font-weight="normal" >5</text>
<line x1="394.80" y1="729.80" x2="400.60" y2="729.80" stroke="#6f6f6f" stroke-width="0.9" />
<text x="391.20" y="732.50" font-size="7.8" text-anchor="end" fill="#333" font-weight="normal" >0</text>
<rect x="411.70" y="706.80" width="19.90" height="23.00" fill="#676767" stroke="#222" stroke-width="0.9"/>
<line x1="421.70" y1="695.10" x2="421.70" y2="716.40" stroke="#333" stroke-width="0.9" />
<line x1="416.20" y1="695.10" x2="427.20" y2="695.10" stroke="#333" stroke-width="0.9" />
<line x1="416.20" y1="716.40" x2="427.20" y2="716.40" stroke="#333" stroke-width="0.9" />
<rect x="443.90" y="663.20" width="19.90" height="66.60" fill="#d9d9d9" stroke="#222" stroke-width="0.9"/>
<line x1="453.80" y1="647.60" x2="453.80" y2="676.60" stroke="#666" stroke-width="0.9" />
<line x1="448.30" y1="647.60" x2="459.30" y2="647.60" stroke="#666" stroke-width="0.9" />
<line x1="448.30" y1="676.60" x2="459.30" y2="676.60" stroke="#666" stroke-width="0.9" />
<rect x="476.00" y="703.30" width="20.20" height="26.50" fill="#9a9a9a" stroke="#222" stroke-width="0.9"/>
<line x1="486.10" y1="697.40" x2="486.10" y2="708.50" stroke="#333" stroke-width="0.9" />
<line x1="480.60" y1="697.40" x2="491.60" y2="697.40" stroke="#333" stroke-width="0.9" />
<line x1="480.60" y1="708.50" x2="491.60" y2="708.50" stroke="#333" stroke-width="0.9" />
<line x1="421.70" y1="729.80" x2="421.70" y2="735.10" stroke="#666" stroke-width="0.9" />
<line x1="453.90" y1="729.80" x2="453.90" y2="735.10" stroke="#b5b5b5" stroke-width="0.9" />
<line x1="486.10" y1="729.80" x2="486.10" y2="735.10" stroke="#666" stroke-width="0.9" />
<circle cx="421.70" cy="656.10" r="2.0" fill="#000"/>
<circle cx="421.70" cy="702.20" r="2.0" fill="#000"/>
<circle cx="417.40" cy="711.60" r="2.0" fill="#000"/>
<circle cx="425.70" cy="710.20" r="2.0" fill="#000"/>
<circle cx="417.40" cy="726.70" r="2.0" fill="#000"/>
<circle cx="425.70" cy="726.10" r="2.0" fill="#000"/>
<rect x="451.90" y="599.00" width="3.8" height="3.8" fill="#000"/>
<rect x="451.90" y="619.20" width="3.8" height="3.8" fill="#000"/>
<rect x="451.90" y="650.80" width="3.8" height="3.8" fill="#000"/>
<rect x="451.90" y="677.80" width="3.8" height="3.8" fill="#000"/>
<rect x="451.90" y="686.10" width="3.8" height="3.8" fill="#000"/>
<rect x="447.70" y="694.90" width="3.8" height="3.8" fill="#000"/>
<rect x="456.20" y="694.30" width="3.8" height="3.8" fill="#000"/>
<path d="M486.30,685.47 L488.55,689.52 L484.05,689.52Z" fill="#000"/>
<path d="M482.00,695.17 L484.25,699.22 L479.75,699.22Z" fill="#000"/>
<path d="M490.50,695.17 L492.75,699.22 L488.25,699.22Z" fill="#000"/>
<path d="M486.30,708.47 L488.55,712.52 L484.05,712.52Z" fill="#000"/>
<path d="M486.30,717.37 L488.55,721.42 L484.05,721.42Z" fill="#000"/>
<line x1="421.70" y1="583.80" x2="453.80" y2="583.80" stroke="#8a8a8a" stroke-width="1.0" />
<path d="M437.90,578.40L437.90,576.25M437.90,578.40L439.94,577.74M437.90,578.40L439.16,580.14M437.90,578.40L436.64,580.14M437.90,578.40L435.86,577.74" stroke="#222" stroke-width="0.85" fill="none"/>
<text transform="translate(376.00,649.30) rotate(-90)" font-size="8.2" text-anchor="middle" fill="#222" textLength="48" lengthAdjust="spacingAndGlyphs">2HG/α-KG</text>
<text x="421.70" y="744.90" font-size="7.0" text-anchor="middle" fill="#303030" font-weight="normal" textLength="15.3" lengthAdjust="spacingAndGlyphs" >RISP</text>
<text x="421.70" y="754.00" font-size="7.0" text-anchor="middle" fill="#303030" font-weight="normal" textLength="10.0" lengthAdjust="spacingAndGlyphs" >WT</text>
<text x="453.80" y="744.90" font-size="7.0" text-anchor="middle" fill="#303030" font-weight="normal" textLength="15.3" lengthAdjust="spacingAndGlyphs" >RISP</text>
<text x="453.80" y="754.00" font-size="7.0" text-anchor="middle" fill="#303030" font-weight="normal" textLength="10.4" lengthAdjust="spacingAndGlyphs" >KO</text>
<text x="486.30" y="744.90" font-size="7.0" text-anchor="middle" fill="#303030" font-weight="normal" textLength="15.3" lengthAdjust="spacingAndGlyphs" >RISP</text>
<text x="486.30" y="754.00" font-size="7.0" text-anchor="middle" fill="#303030" font-weight="normal" textLength="33.4" lengthAdjust="spacingAndGlyphs" >KO + AOX</text>
</g>
<g transform="translate(0,0.9)">
<text x="534.50" y="559.40" font-size="13.5" text-anchor="start" fill="#000" font-weight="bold" stroke="#000" stroke-width="0.45">j</text>
<line x1="578.60" y1="569.50" x2="578.60" y2="729.90" stroke="#6f6f6f" stroke-width="0.9" />
<line x1="578.20" y1="729.50" x2="685.00" y2="729.50" stroke="#6f6f6f" stroke-width="0.9" />
<line x1="572.80" y1="569.90" x2="578.60" y2="569.90" stroke="#6f6f6f" stroke-width="0.9" />
<text x="568.30" y="572.60" font-size="7.8" text-anchor="end" fill="#333" font-weight="normal" >800</text>
<line x1="572.80" y1="609.80" x2="578.60" y2="609.80" stroke="#6f6f6f" stroke-width="0.9" />
<text x="568.30" y="612.50" font-size="7.8" text-anchor="end" fill="#333" font-weight="normal" >600</text>
<line x1="572.80" y1="649.70" x2="578.60" y2="649.70" stroke="#6f6f6f" stroke-width="0.9" />
<text x="568.30" y="652.40" font-size="7.8" text-anchor="end" fill="#333" font-weight="normal" >400</text>
<line x1="572.80" y1="689.60" x2="578.60" y2="689.60" stroke="#6f6f6f" stroke-width="0.9" />
<text x="568.30" y="692.30" font-size="7.8" text-anchor="end" fill="#333" font-weight="normal" >200</text>
<line x1="572.80" y1="729.50" x2="578.60" y2="729.50" stroke="#6f6f6f" stroke-width="0.9" />
<text x="568.30" y="732.20" font-size="7.8" text-anchor="end" fill="#333" font-weight="normal" >0</text>
<rect x="590.30" y="674.00" width="19.30" height="55.50" fill="#676767" stroke="#222" stroke-width="0.9"/>
<line x1="600.00" y1="664.10" x2="600.00" y2="681.40" stroke="#333" stroke-width="0.9" />
<line x1="594.50" y1="664.10" x2="605.50" y2="664.10" stroke="#333" stroke-width="0.9" />
<line x1="594.50" y1="681.40" x2="605.50" y2="681.40" stroke="#333" stroke-width="0.9" />
<rect x="622.40" y="662.90" width="19.10" height="66.60" fill="#d9d9d9" stroke="#222" stroke-width="0.9"/>
<line x1="632.00" y1="647.60" x2="632.00" y2="678.30" stroke="#666" stroke-width="0.9" />
<line x1="626.50" y1="647.60" x2="637.50" y2="647.60" stroke="#666" stroke-width="0.9" />
<line x1="626.50" y1="678.30" x2="637.50" y2="678.30" stroke="#666" stroke-width="0.9" />
<rect x="654.00" y="682.00" width="19.30" height="47.50" fill="#9a9a9a" stroke="#222" stroke-width="0.9"/>
<line x1="663.70" y1="662.40" x2="663.70" y2="699.10" stroke="#333" stroke-width="0.9" />
<line x1="658.20" y1="662.40" x2="669.20" y2="662.40" stroke="#333" stroke-width="0.9" />
<line x1="658.20" y1="699.10" x2="669.20" y2="699.10" stroke="#333" stroke-width="0.9" />
<line x1="600.00" y1="729.50" x2="600.00" y2="734.80" stroke="#666" stroke-width="0.9" />
<line x1="632.00" y1="729.50" x2="632.00" y2="734.80" stroke="#b5b5b5" stroke-width="0.9" />
<line x1="663.70" y1="729.50" x2="663.70" y2="734.80" stroke="#666" stroke-width="0.9" />
<circle cx="599.90" cy="638.50" r="2.0" fill="#000"/>
<circle cx="599.90" cy="664.40" r="2.0" fill="#000"/>
<circle cx="599.90" cy="670.00" r="2.0" fill="#000"/>
<circle cx="595.40" cy="680.90" r="2.0" fill="#000"/>
<circle cx="604.50" cy="683.10" r="2.0" fill="#000"/>
<circle cx="599.90" cy="700.80" r="2.0" fill="#000"/>
<rect x="629.90" y="599.00" width="3.8" height="3.8" fill="#000"/>
<rect x="629.90" y="616.90" width="3.8" height="3.8" fill="#000"/>
<rect x="629.90" y="670.70" width="3.8" height="3.8" fill="#000"/>
<rect x="621.60" y="673.60" width="3.8" height="3.8" fill="#000"/>
<rect x="638.10" y="674.70" width="3.8" height="3.8" fill="#000"/>
<rect x="629.90" y="688.90" width="3.8" height="3.8" fill="#000"/>
<rect x="629.90" y="694.60" width="3.8" height="3.8" fill="#000"/>
<path d="M663.70,617.17 L665.95,621.22 L661.45,621.22Z" fill="#000"/>
<path d="M663.70,656.47 L665.95,660.52 L661.45,660.52Z" fill="#000"/>
<path d="M659.10,699.37 L661.35,703.42 L656.85,703.42Z" fill="#000"/>
<path d="M668.50,703.37 L670.75,707.42 L666.25,707.42Z" fill="#000"/>
<path d="M663.70,718.17 L665.95,722.22 L661.45,722.22Z" fill="#000"/>
<text transform="translate(547.20,650.30) rotate(-90)" font-size="8.2" text-anchor="middle" fill="#222" textLength="64" lengthAdjust="spacingAndGlyphs">Succinate/α-KG</text>
<text x="599.90" y="744.90" font-size="7.0" text-anchor="middle" fill="#303030" font-weight="normal" textLength="15.3" lengthAdjust="spacingAndGlyphs" >RISP</text>
<text x="599.90" y="754.00" font-size="7.0" text-anchor="middle" fill="#303030" font-weight="normal" textLength="10.0" lengthAdjust="spacingAndGlyphs" >WT</text>
<text x="631.80" y="744.90" font-size="7.0" text-anchor="middle" fill="#303030" font-weight="normal" textLength="15.3" lengthAdjust="spacingAndGlyphs" >RISP</text>
<text x="631.80" y="754.00" font-size="7.0" text-anchor="middle" fill="#303030" font-weight="normal" textLength="10.4" lengthAdjust="spacingAndGlyphs" >KO</text>
<text x="663.70" y="744.90" font-size="7.0" text-anchor="middle" fill="#303030" font-weight="normal" textLength="15.3" lengthAdjust="spacingAndGlyphs" >RISP</text>
<text x="663.70" y="754.00" font-size="7.0" text-anchor="middle" fill="#303030" font-weight="normal" textLength="33.4" lengthAdjust="spacingAndGlyphs" >KO + AOX</text>
</g>
</svg></body></html>
